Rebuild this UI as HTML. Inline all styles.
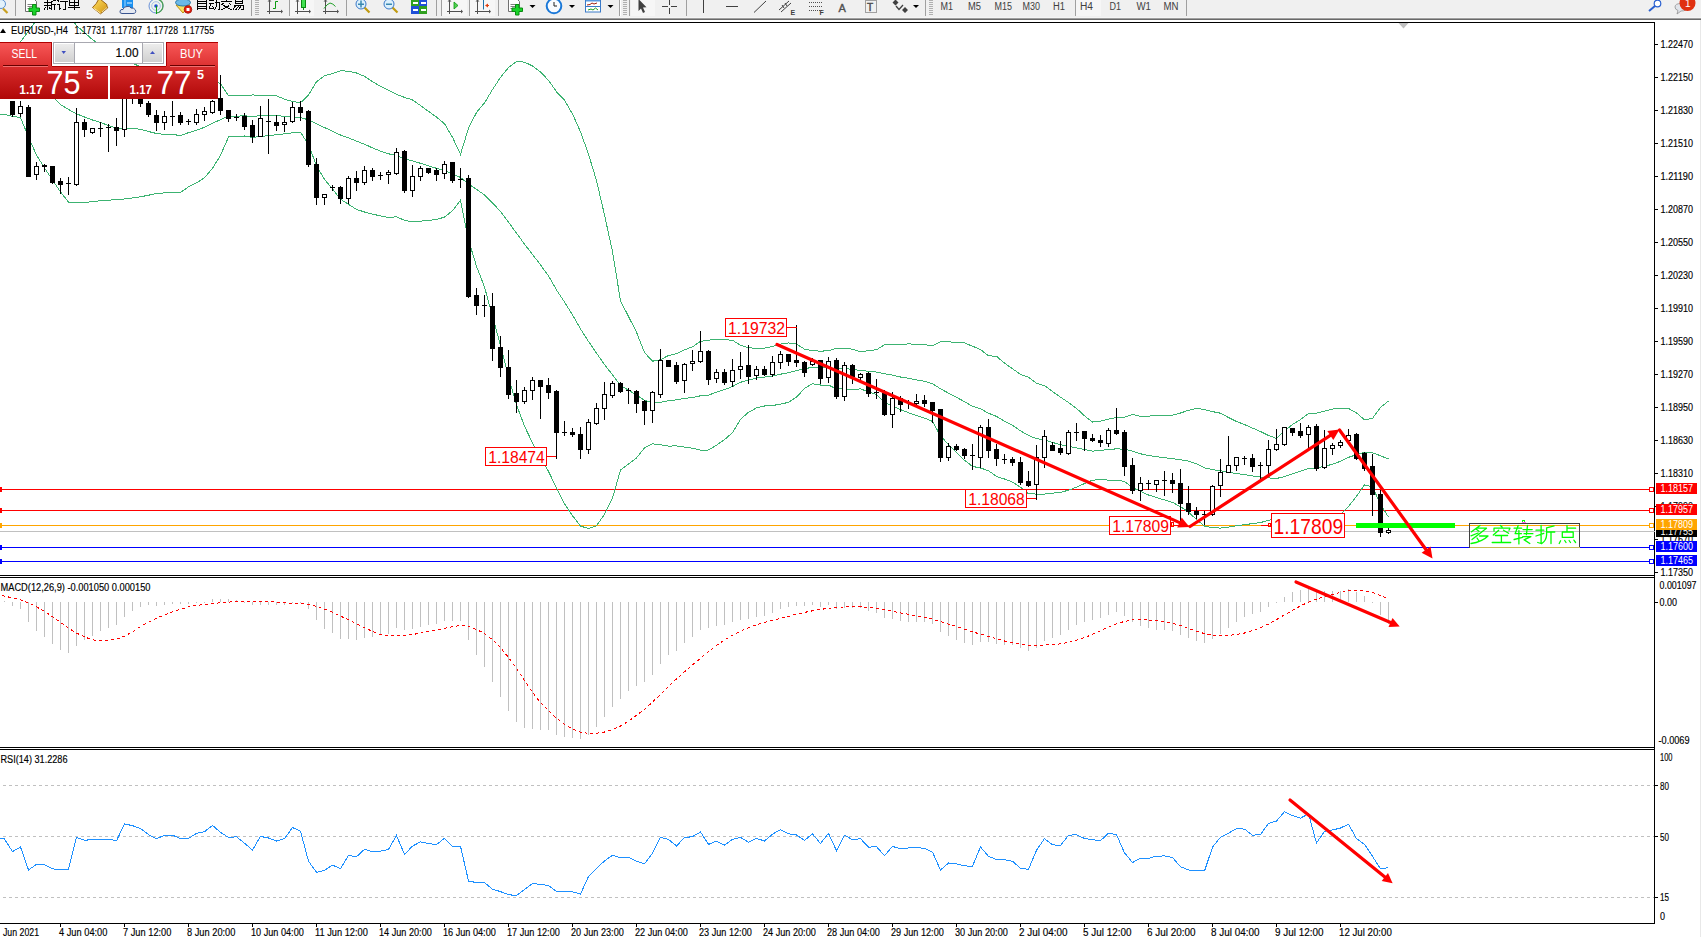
<!DOCTYPE html>
<html><head><meta charset="utf-8"><title>EURUSD H4</title>
<style>
html,body{margin:0;padding:0;background:#fff;width:1701px;height:937px;overflow:hidden}
svg{display:block}
text{font-family:"Liberation Sans",sans-serif}
</style></head><body>
<svg width="1701" height="937" viewBox="0 0 1701 937">
<defs>
<clipPath id="cm"><rect x="0" y="23" width="1654" height="552"/></clipPath>
<clipPath id="cmacd"><rect x="0" y="578" width="1654" height="169"/></clipPath>
<clipPath id="crsi"><rect x="0" y="750" width="1654" height="173"/></clipPath>
<linearGradient id="gred" x1="0" y1="0" x2="0" y2="1"><stop offset="0" stop-color="#d82c2c"/><stop offset="1" stop-color="#b00808"/></linearGradient>
<linearGradient id="gtab" x1="0" y1="0" x2="0" y2="1"><stop offset="0" stop-color="#f85858"/><stop offset="1" stop-color="#dc3030"/></linearGradient>
<linearGradient id="gbtn" x1="0" y1="0" x2="0" y2="1"><stop offset="0" stop-color="#ececec"/><stop offset="1" stop-color="#d0d0d0"/></linearGradient>
</defs>

<g id="toolbar">
<rect x="0" y="0" width="1701" height="18" fill="#f0f0f0"/>
<rect x="0" y="18" width="1701" height="1" fill="#a0a0a0"/><rect x="0" y="19" width="1701" height="1" fill="#d8d8d8"/>
</g>
<rect x="1700" y="19" width="1" height="918" fill="#e8e8e8"/>
<g clip-path="url(#cm)" shape-rendering="crispEdges">
<rect x="0" y="489" width="1650" height="1" fill="#ff0000"/>
<rect x="0" y="487" width="2" height="5" fill="#ff0000"/>
<rect x="1649.5" y="487.5" width="4" height="4" fill="#fff" stroke="#ff0000" stroke-width="1"/>
<rect x="0" y="510" width="1650" height="1" fill="#ff0000"/>
<rect x="0" y="508" width="2" height="5" fill="#ff0000"/>
<rect x="1649.5" y="508.5" width="4" height="4" fill="#fff" stroke="#ff0000" stroke-width="1"/>
<rect x="0" y="525" width="1650" height="1" fill="#ffa500"/>
<rect x="0" y="523" width="2" height="5" fill="#ffa500"/>
<rect x="1649.5" y="523.5" width="4" height="4" fill="#fff" stroke="#ffa500" stroke-width="1"/>
<rect x="0" y="531" width="1655" height="1" fill="#c0c0c0"/>
<rect x="0" y="547" width="1650" height="1" fill="#0000ff"/>
<rect x="0" y="545" width="2" height="5" fill="#0000ff"/>
<rect x="1649.5" y="545.5" width="4" height="4" fill="#fff" stroke="#0000ff" stroke-width="1"/>
<rect x="0" y="561" width="1650" height="1" fill="#0000ff"/>
<rect x="0" y="559" width="2" height="5" fill="#0000ff"/>
<rect x="1649.5" y="559.5" width="4" height="4" fill="#fff" stroke="#0000ff" stroke-width="1"/>
<polyline points="-3.5,66.0 4.5,60.0 12.5,52.0 20.5,42.0 28.5,31.0 36.5,20.0 44.5,12.0 52.5,8.0 60.5,8.0 68.5,14.0 76.5,25.6 84.5,32.6 92.5,39.6 100.5,45.0 108.5,50.0 116.5,54.0 124.5,58.0 132.5,63.0 140.5,67.0 148.5,71.0 156.5,74.0 164.5,76.1 172.5,76.4 180.5,78.3 188.5,78.4 196.5,77.4 204.5,76.8 212.5,78.3 220.5,83.9 228.5,95.7 236.5,95.6 244.5,95.8 252.5,95.0 260.5,95.1 268.5,95.3 276.5,95.7 284.5,99.3 292.5,101.3 300.5,102.8 308.5,95.0 316.5,81.7 324.5,75.7 332.5,73.6 340.5,70.7 348.5,71.2 356.5,73.0 364.5,76.3 372.5,81.7 380.5,86.3 388.5,90.3 396.5,94.3 404.5,97.4 412.5,99.9 420.5,105.5 428.5,111.4 436.5,117.1 444.5,123.7 452.5,137.3 460.5,154.4 468.5,128.2 476.5,112.5 484.5,102.9 492.5,89.5 500.5,77.4 508.5,67.5 516.5,61.5 524.5,62.1 532.5,66.0 540.5,72.0 548.5,80.3 556.5,91.8 564.5,100.2 572.5,114.0 580.5,131.7 588.5,154.2 596.5,180.5 604.5,215.0 612.5,251.5 620.5,300.9 628.5,316.4 636.5,332.3 644.5,352.6 652.5,361.2 660.5,359.7 668.5,355.5 676.5,353.7 684.5,349.8 692.5,346.8 700.5,341.4 708.5,340.3 716.5,339.1 724.5,339.7 732.5,340.2 740.5,345.3 748.5,347.8 756.5,348.3 764.5,348.2 772.5,346.6 780.5,344.1 788.5,343.0 796.5,344.1 804.5,349.1 812.5,350.6 820.5,351.2 828.5,350.7 836.5,348.2 844.5,348.4 852.5,349.2 860.5,352.0 868.5,350.6 876.5,349.7 884.5,344.9 892.5,344.6 900.5,344.4 908.5,343.9 916.5,344.3 924.5,344.5 932.5,345.9 940.5,341.8 948.5,341.7 956.5,342.7 964.5,342.9 972.5,346.2 980.5,349.5 988.5,355.8 996.5,356.3 1004.5,363.1 1012.5,368.7 1020.5,374.4 1028.5,377.1 1036.5,383.3 1044.5,385.6 1052.5,391.6 1060.5,397.2 1068.5,402.5 1076.5,408.4 1084.5,415.8 1092.5,422.1 1100.5,421.2 1108.5,419.1 1116.5,417.4 1124.5,417.2 1132.5,414.5 1140.5,416.4 1148.5,416.1 1156.5,415.7 1164.5,415.5 1172.5,415.1 1180.5,413.0 1188.5,410.3 1196.5,408.3 1204.5,409.6 1212.5,411.6 1220.5,413.2 1228.5,417.5 1236.5,421.5 1244.5,424.5 1252.5,428.1 1260.5,431.5 1268.5,435.5 1276.5,438.4 1284.5,430.9 1292.5,424.5 1300.5,419.5 1308.5,413.5 1316.5,413.1 1324.5,411.1 1332.5,409.1 1340.5,408.2 1348.5,408.4 1356.5,412.9 1364.5,419.9 1372.5,418.4 1380.5,407.5 1388.5,400.9" fill="none" stroke="#3cb371" stroke-width="1"/>
<polyline points="-3.5,85.0 4.5,85.0 12.5,85.0 20.5,86.0 28.5,87.0 36.5,88.0 44.5,90.0 52.5,96.5 60.5,104.5 68.5,109.5 76.5,113.8 84.5,117.0 92.5,120.0 100.5,122.5 108.5,125.5 116.5,128.0 124.5,128.2 132.5,128.5 140.5,129.3 148.5,131.5 156.5,133.5 164.5,134.5 172.5,134.6 180.5,135.4 188.5,132.7 196.5,130.1 204.5,127.3 212.5,123.3 220.5,119.6 228.5,116.3 236.5,116.1 244.5,115.9 252.5,116.3 260.5,115.8 268.5,115.5 276.5,115.2 284.5,116.6 292.5,117.0 300.5,117.5 308.5,119.9 316.5,123.7 324.5,127.6 332.5,131.2 340.5,135.0 348.5,137.8 356.5,141.2 364.5,144.2 372.5,147.9 380.5,151.1 388.5,153.8 396.5,155.6 404.5,158.8 412.5,160.8 420.5,163.3 428.5,165.9 436.5,168.3 444.5,170.4 452.5,174.0 460.5,177.4 468.5,184.0 476.5,189.4 484.5,194.9 492.5,202.9 500.5,211.4 508.5,222.2 516.5,233.1 524.5,244.1 532.5,254.4 540.5,264.9 548.5,275.9 556.5,289.9 564.5,302.0 572.5,314.9 580.5,328.9 588.5,341.4 596.5,353.1 604.5,364.7 612.5,374.8 620.5,385.5 628.5,390.2 636.5,395.1 644.5,400.3 652.5,402.5 660.5,402.2 668.5,400.8 676.5,399.8 684.5,398.5 692.5,397.5 700.5,395.8 708.5,395.1 716.5,392.2 724.5,389.6 732.5,386.5 740.5,382.3 748.5,380.1 756.5,378.1 764.5,377.1 772.5,376.1 780.5,374.2 788.5,372.7 796.5,370.7 804.5,368.8 812.5,367.2 820.5,368.1 828.5,367.8 836.5,368.6 844.5,368.6 852.5,369.4 860.5,370.5 868.5,371.2 876.5,372.1 884.5,373.8 892.5,375.1 900.5,377.0 908.5,378.3 916.5,379.9 924.5,381.3 932.5,383.7 940.5,388.8 948.5,393.1 956.5,397.4 964.5,401.6 972.5,406.3 980.5,408.8 988.5,413.2 996.5,416.4 1004.5,421.1 1012.5,425.4 1020.5,430.8 1028.5,435.4 1036.5,438.7 1044.5,439.8 1052.5,442.4 1060.5,444.8 1068.5,446.3 1076.5,447.8 1084.5,449.6 1092.5,451.1 1100.5,450.4 1108.5,449.6 1116.5,448.8 1124.5,449.3 1132.5,451.1 1140.5,453.8 1148.5,455.5 1156.5,456.6 1164.5,457.7 1172.5,458.7 1180.5,459.8 1188.5,461.1 1196.5,463.9 1204.5,467.8 1212.5,469.7 1220.5,470.7 1228.5,472.3 1236.5,473.6 1244.5,474.6 1252.5,475.9 1260.5,477.0 1268.5,477.9 1276.5,478.5 1284.5,476.6 1292.5,473.7 1300.5,471.3 1308.5,468.5 1316.5,467.9 1324.5,466.2 1332.5,464.3 1340.5,461.2 1348.5,457.4 1356.5,454.6 1364.5,452.3 1372.5,452.7 1380.5,455.8 1388.5,459.0" fill="none" stroke="#3cb371" stroke-width="1"/>
<polyline points="-3.5,114.2 4.5,114.3 12.5,116.4 20.5,117.6 28.5,137.0 36.5,155.0 44.5,168.0 52.5,180.0 60.5,192.0 68.5,202.0 76.5,202.5 84.5,202.7 92.5,201.5 100.5,200.8 108.5,200.2 116.5,199.6 124.5,199.0 132.5,198.0 140.5,196.8 148.5,195.2 156.5,193.6 164.5,192.9 172.5,192.9 180.5,192.5 188.5,186.9 196.5,182.8 204.5,177.8 212.5,168.3 220.5,155.4 228.5,137.0 236.5,136.6 244.5,136.0 252.5,137.5 260.5,136.5 268.5,135.7 276.5,134.7 284.5,133.9 292.5,132.8 300.5,132.1 308.5,144.9 316.5,165.6 324.5,179.4 332.5,188.8 340.5,199.2 348.5,204.4 356.5,209.4 364.5,212.0 372.5,214.1 380.5,215.9 388.5,217.4 396.5,216.8 404.5,220.3 412.5,221.8 420.5,221.1 428.5,220.4 436.5,219.5 444.5,217.1 452.5,210.7 460.5,200.3 468.5,239.8 476.5,266.3 484.5,287.0 492.5,316.4 500.5,345.4 508.5,376.8 516.5,404.8 524.5,426.2 532.5,442.8 540.5,457.8 548.5,471.4 556.5,487.9 564.5,503.7 572.5,515.7 580.5,526.0 588.5,528.6 596.5,525.7 604.5,514.3 612.5,498.2 620.5,470.0 628.5,464.0 636.5,457.9 644.5,447.9 652.5,443.8 660.5,444.7 668.5,446.1 676.5,445.9 684.5,447.1 692.5,448.2 700.5,450.2 708.5,450.0 716.5,445.2 724.5,439.6 732.5,432.7 740.5,419.3 748.5,412.3 756.5,407.9 764.5,406.0 772.5,405.5 780.5,404.2 788.5,402.3 796.5,397.2 804.5,388.4 812.5,383.8 820.5,385.0 828.5,385.0 836.5,388.9 844.5,388.9 852.5,389.5 860.5,388.9 868.5,391.8 876.5,394.6 884.5,402.6 892.5,405.7 900.5,409.6 908.5,412.7 916.5,415.4 924.5,418.1 932.5,421.4 940.5,435.9 948.5,444.5 956.5,452.2 964.5,460.3 972.5,466.4 980.5,468.0 988.5,470.7 996.5,476.5 1004.5,479.0 1012.5,482.1 1020.5,487.3 1028.5,493.7 1036.5,494.1 1044.5,494.1 1052.5,493.2 1060.5,492.4 1068.5,490.2 1076.5,487.2 1084.5,483.5 1092.5,480.2 1100.5,479.6 1108.5,480.1 1116.5,480.2 1124.5,481.4 1132.5,487.6 1140.5,491.3 1148.5,495.0 1156.5,497.6 1164.5,499.9 1172.5,502.4 1180.5,506.7 1188.5,512.0 1196.5,519.6 1204.5,526.0 1212.5,527.7 1220.5,528.1 1228.5,527.1 1236.5,525.7 1244.5,524.7 1252.5,523.6 1260.5,522.6 1268.5,520.3 1276.5,518.6 1284.5,522.3 1292.5,522.9 1300.5,523.1 1308.5,523.4 1316.5,522.6 1324.5,521.3 1332.5,519.5 1340.5,514.2 1348.5,506.4 1356.5,496.3 1364.5,484.8 1372.5,487.0 1380.5,504.1 1388.5,517.1" fill="none" stroke="#3cb371" stroke-width="1"/>
<rect x="12" y="101" width="1" height="16" fill="#000"/>
<rect x="10" y="101" width="5" height="14" fill="#000"/>
<rect x="20" y="101" width="1" height="16" fill="#000"/>
<rect x="18.5" y="106.5" width="4" height="7" fill="#fff" stroke="#000" stroke-width="1"/>
<rect x="28" y="105" width="1" height="72" fill="#000"/>
<rect x="26" y="107" width="5" height="70" fill="#000"/>
<rect x="36" y="162" width="1" height="18" fill="#000"/>
<rect x="34.5" y="166.5" width="4" height="8" fill="#fff" stroke="#000" stroke-width="1"/>
<rect x="44" y="164" width="1" height="8" fill="#000"/>
<rect x="42" y="165" width="5" height="2" fill="#000"/>
<rect x="52" y="166" width="1" height="18" fill="#000"/>
<rect x="50" y="166" width="5" height="17" fill="#000"/>
<rect x="60" y="178" width="1" height="16" fill="#000"/>
<rect x="58" y="181" width="5" height="4" fill="#000"/>
<rect x="68" y="177" width="1" height="18" fill="#000"/>
<rect x="66" y="183" width="5" height="1" fill="#000"/>
<rect x="76" y="108" width="1" height="78" fill="#000"/>
<rect x="74.5" y="122.5" width="4" height="62" fill="#fff" stroke="#000" stroke-width="1"/>
<rect x="84" y="119" width="1" height="18" fill="#000"/>
<rect x="82" y="122" width="5" height="8" fill="#000"/>
<rect x="92" y="128" width="1" height="6" fill="#000"/>
<rect x="90.5" y="128.5" width="4" height="4" fill="#fff" stroke="#000" stroke-width="1"/>
<rect x="100" y="122" width="1" height="15" fill="#000"/>
<rect x="98" y="128" width="5" height="1" fill="#000"/>
<rect x="108" y="124" width="1" height="28" fill="#000"/>
<rect x="106" y="127" width="5" height="1" fill="#000"/>
<rect x="116" y="118" width="1" height="28" fill="#000"/>
<rect x="114" y="127" width="5" height="4" fill="#000"/>
<rect x="124" y="90" width="1" height="47" fill="#000"/>
<rect x="122.5" y="95.5" width="4" height="34" fill="#fff" stroke="#000" stroke-width="1"/>
<rect x="132" y="88" width="1" height="16" fill="#000"/>
<rect x="130" y="92" width="5" height="7" fill="#000"/>
<rect x="140" y="92" width="1" height="15" fill="#000"/>
<rect x="138" y="96" width="5" height="8" fill="#000"/>
<rect x="148" y="101" width="1" height="16" fill="#000"/>
<rect x="146" y="103" width="5" height="12" fill="#000"/>
<rect x="156" y="110" width="1" height="21" fill="#000"/>
<rect x="154" y="115" width="5" height="8" fill="#000"/>
<rect x="164" y="111" width="1" height="19" fill="#000"/>
<rect x="162.5" y="116.5" width="4" height="6" fill="#fff" stroke="#000" stroke-width="1"/>
<rect x="172" y="101" width="1" height="25" fill="#000"/>
<rect x="170" y="116" width="5" height="1" fill="#000"/>
<rect x="180" y="112" width="1" height="13" fill="#000"/>
<rect x="178" y="115" width="5" height="8" fill="#000"/>
<rect x="188" y="119" width="1" height="6" fill="#000"/>
<rect x="186" y="121" width="5" height="1" fill="#000"/>
<rect x="196" y="109" width="1" height="16" fill="#000"/>
<rect x="194.5" y="114.5" width="4" height="8" fill="#fff" stroke="#000" stroke-width="1"/>
<rect x="204" y="107" width="1" height="14" fill="#000"/>
<rect x="202.5" y="111.5" width="4" height="3" fill="#fff" stroke="#000" stroke-width="1"/>
<rect x="212" y="100" width="1" height="14" fill="#000"/>
<rect x="210.5" y="101.5" width="4" height="11" fill="#fff" stroke="#000" stroke-width="1"/>
<rect x="220" y="75" width="1" height="40" fill="#000"/>
<rect x="218" y="98" width="5" height="13" fill="#000"/>
<rect x="228" y="110" width="1" height="12" fill="#000"/>
<rect x="226" y="110" width="5" height="9" fill="#000"/>
<rect x="236" y="114" width="1" height="7" fill="#000"/>
<rect x="234" y="117" width="5" height="1" fill="#000"/>
<rect x="244" y="113" width="1" height="17" fill="#000"/>
<rect x="242" y="116" width="5" height="11" fill="#000"/>
<rect x="252" y="120" width="1" height="23" fill="#000"/>
<rect x="250" y="125" width="5" height="12" fill="#000"/>
<rect x="260" y="106" width="1" height="31" fill="#000"/>
<rect x="258.5" y="118.5" width="4" height="18" fill="#fff" stroke="#000" stroke-width="1"/>
<rect x="268" y="99" width="1" height="55" fill="#000"/>
<rect x="266" y="121" width="5" height="1" fill="#000"/>
<rect x="276" y="115" width="1" height="16" fill="#000"/>
<rect x="274" y="122" width="5" height="4" fill="#000"/>
<rect x="284" y="117" width="1" height="15" fill="#000"/>
<rect x="282.5" y="122.5" width="4" height="2" fill="#fff" stroke="#000" stroke-width="1"/>
<rect x="292" y="102" width="1" height="21" fill="#000"/>
<rect x="290.5" y="107.5" width="4" height="14" fill="#fff" stroke="#000" stroke-width="1"/>
<rect x="300" y="101" width="1" height="20" fill="#000"/>
<rect x="298" y="107" width="5" height="6" fill="#000"/>
<rect x="308" y="110" width="1" height="57" fill="#000"/>
<rect x="306" y="111" width="5" height="54" fill="#000"/>
<rect x="316" y="158" width="1" height="47" fill="#000"/>
<rect x="314" y="164" width="5" height="34" fill="#000"/>
<rect x="324" y="194" width="1" height="11" fill="#000"/>
<rect x="322.5" y="194.5" width="4" height="3" fill="#fff" stroke="#000" stroke-width="1"/>
<rect x="332" y="185" width="1" height="6" fill="#000"/>
<rect x="330" y="187" width="5" height="1" fill="#000"/>
<rect x="340" y="186" width="1" height="18" fill="#000"/>
<rect x="338" y="187" width="5" height="12" fill="#000"/>
<rect x="348" y="176" width="1" height="28" fill="#000"/>
<rect x="346.5" y="178.5" width="4" height="20" fill="#fff" stroke="#000" stroke-width="1"/>
<rect x="356" y="171" width="1" height="20" fill="#000"/>
<rect x="354" y="178" width="5" height="5" fill="#000"/>
<rect x="364" y="166" width="1" height="19" fill="#000"/>
<rect x="362.5" y="170.5" width="4" height="12" fill="#fff" stroke="#000" stroke-width="1"/>
<rect x="372" y="168" width="1" height="13" fill="#000"/>
<rect x="370" y="170" width="5" height="7" fill="#000"/>
<rect x="380" y="172" width="1" height="8" fill="#000"/>
<rect x="378" y="175" width="5" height="1" fill="#000"/>
<rect x="388" y="170" width="1" height="14" fill="#000"/>
<rect x="386.5" y="172.5" width="4" height="2" fill="#fff" stroke="#000" stroke-width="1"/>
<rect x="396" y="148" width="1" height="27" fill="#000"/>
<rect x="394.5" y="152.5" width="4" height="21" fill="#fff" stroke="#000" stroke-width="1"/>
<rect x="404" y="150" width="1" height="43" fill="#000"/>
<rect x="402" y="151" width="5" height="40" fill="#000"/>
<rect x="412" y="165" width="1" height="32" fill="#000"/>
<rect x="410.5" y="176.5" width="4" height="14" fill="#fff" stroke="#000" stroke-width="1"/>
<rect x="420" y="166" width="1" height="15" fill="#000"/>
<rect x="418.5" y="168.5" width="4" height="8" fill="#fff" stroke="#000" stroke-width="1"/>
<rect x="428" y="168" width="1" height="6" fill="#000"/>
<rect x="426" y="168" width="5" height="5" fill="#000"/>
<rect x="436" y="168" width="1" height="13" fill="#000"/>
<rect x="434" y="170" width="5" height="5" fill="#000"/>
<rect x="444" y="161" width="1" height="18" fill="#000"/>
<rect x="442.5" y="164.5" width="4" height="9" fill="#fff" stroke="#000" stroke-width="1"/>
<rect x="452" y="162" width="1" height="21" fill="#000"/>
<rect x="450" y="162" width="5" height="19" fill="#000"/>
<rect x="460" y="168" width="1" height="20" fill="#000"/>
<rect x="458" y="179" width="5" height="1" fill="#000"/>
<rect x="468" y="175" width="1" height="123" fill="#000"/>
<rect x="466" y="178" width="5" height="119" fill="#000"/>
<rect x="476" y="288" width="1" height="27" fill="#000"/>
<rect x="474" y="295" width="5" height="11" fill="#000"/>
<rect x="484" y="295" width="1" height="22" fill="#000"/>
<rect x="482" y="305" width="5" height="1" fill="#000"/>
<rect x="492" y="293" width="1" height="68" fill="#000"/>
<rect x="490" y="306" width="5" height="43" fill="#000"/>
<rect x="500" y="336" width="1" height="41" fill="#000"/>
<rect x="498" y="347" width="5" height="21" fill="#000"/>
<rect x="508" y="350" width="1" height="49" fill="#000"/>
<rect x="506" y="367" width="5" height="28" fill="#000"/>
<rect x="516" y="380" width="1" height="33" fill="#000"/>
<rect x="514" y="393" width="5" height="9" fill="#000"/>
<rect x="524" y="387" width="1" height="17" fill="#000"/>
<rect x="522.5" y="390.5" width="4" height="11" fill="#fff" stroke="#000" stroke-width="1"/>
<rect x="532" y="377" width="1" height="23" fill="#000"/>
<rect x="530.5" y="380.5" width="4" height="10" fill="#fff" stroke="#000" stroke-width="1"/>
<rect x="540" y="380" width="1" height="39" fill="#000"/>
<rect x="538" y="380" width="5" height="7" fill="#000"/>
<rect x="548" y="378" width="1" height="21" fill="#000"/>
<rect x="546" y="385" width="5" height="8" fill="#000"/>
<rect x="556" y="390" width="1" height="69" fill="#000"/>
<rect x="554" y="391" width="5" height="42" fill="#000"/>
<rect x="564" y="421" width="1" height="15" fill="#000"/>
<rect x="562" y="432" width="5" height="1" fill="#000"/>
<rect x="572" y="428" width="1" height="9" fill="#000"/>
<rect x="570" y="432" width="5" height="3" fill="#000"/>
<rect x="580" y="427" width="1" height="32" fill="#000"/>
<rect x="578" y="434" width="5" height="16" fill="#000"/>
<rect x="588" y="419" width="1" height="35" fill="#000"/>
<rect x="586.5" y="422.5" width="4" height="27" fill="#fff" stroke="#000" stroke-width="1"/>
<rect x="596" y="403" width="1" height="22" fill="#000"/>
<rect x="594.5" y="408.5" width="4" height="15" fill="#fff" stroke="#000" stroke-width="1"/>
<rect x="604" y="382" width="1" height="38" fill="#000"/>
<rect x="602.5" y="394.5" width="4" height="14" fill="#fff" stroke="#000" stroke-width="1"/>
<rect x="612" y="381" width="1" height="17" fill="#000"/>
<rect x="610.5" y="383.5" width="4" height="12" fill="#fff" stroke="#000" stroke-width="1"/>
<rect x="620" y="382" width="1" height="11" fill="#000"/>
<rect x="618" y="383" width="5" height="9" fill="#000"/>
<rect x="628" y="388" width="1" height="16" fill="#000"/>
<rect x="626" y="390" width="5" height="1" fill="#000"/>
<rect x="636" y="390" width="1" height="23" fill="#000"/>
<rect x="634" y="391" width="5" height="13" fill="#000"/>
<rect x="644" y="400" width="1" height="25" fill="#000"/>
<rect x="642" y="401" width="5" height="10" fill="#000"/>
<rect x="652" y="391" width="1" height="32" fill="#000"/>
<rect x="650.5" y="392.5" width="4" height="18" fill="#fff" stroke="#000" stroke-width="1"/>
<rect x="660" y="349" width="1" height="49" fill="#000"/>
<rect x="658.5" y="360.5" width="4" height="34" fill="#fff" stroke="#000" stroke-width="1"/>
<rect x="668" y="360" width="1" height="7" fill="#000"/>
<rect x="666" y="360" width="5" height="7" fill="#000"/>
<rect x="676" y="362" width="1" height="22" fill="#000"/>
<rect x="674" y="365" width="5" height="17" fill="#000"/>
<rect x="684" y="363" width="1" height="30" fill="#000"/>
<rect x="682.5" y="364.5" width="4" height="16" fill="#fff" stroke="#000" stroke-width="1"/>
<rect x="692" y="350" width="1" height="21" fill="#000"/>
<rect x="690.5" y="361.5" width="4" height="2" fill="#fff" stroke="#000" stroke-width="1"/>
<rect x="700" y="331" width="1" height="32" fill="#000"/>
<rect x="698.5" y="351.5" width="4" height="10" fill="#fff" stroke="#000" stroke-width="1"/>
<rect x="708" y="350" width="1" height="35" fill="#000"/>
<rect x="706" y="351" width="5" height="29" fill="#000"/>
<rect x="716" y="369" width="1" height="14" fill="#000"/>
<rect x="714.5" y="372.5" width="4" height="6" fill="#fff" stroke="#000" stroke-width="1"/>
<rect x="724" y="369" width="1" height="16" fill="#000"/>
<rect x="722" y="372" width="5" height="11" fill="#000"/>
<rect x="732" y="359" width="1" height="28" fill="#000"/>
<rect x="730.5" y="370.5" width="4" height="11" fill="#fff" stroke="#000" stroke-width="1"/>
<rect x="740" y="352" width="1" height="27" fill="#000"/>
<rect x="738.5" y="366.5" width="4" height="3" fill="#fff" stroke="#000" stroke-width="1"/>
<rect x="748" y="345" width="1" height="39" fill="#000"/>
<rect x="746" y="365" width="5" height="12" fill="#000"/>
<rect x="756" y="366" width="1" height="14" fill="#000"/>
<rect x="754.5" y="369.5" width="4" height="6" fill="#fff" stroke="#000" stroke-width="1"/>
<rect x="764" y="366" width="1" height="10" fill="#000"/>
<rect x="762" y="369" width="5" height="6" fill="#000"/>
<rect x="772" y="356" width="1" height="21" fill="#000"/>
<rect x="770.5" y="362.5" width="4" height="12" fill="#fff" stroke="#000" stroke-width="1"/>
<rect x="780" y="351" width="1" height="18" fill="#000"/>
<rect x="778.5" y="354.5" width="4" height="8" fill="#fff" stroke="#000" stroke-width="1"/>
<rect x="788" y="354" width="1" height="12" fill="#000"/>
<rect x="786" y="354" width="5" height="8" fill="#000"/>
<rect x="796" y="325" width="1" height="42" fill="#000"/>
<rect x="794" y="360" width="5" height="3" fill="#000"/>
<rect x="804" y="361" width="1" height="16" fill="#000"/>
<rect x="802" y="362" width="5" height="11" fill="#000"/>
<rect x="812" y="358" width="1" height="8" fill="#000"/>
<rect x="810.5" y="361.5" width="4" height="3" fill="#fff" stroke="#000" stroke-width="1"/>
<rect x="820" y="360" width="1" height="24" fill="#000"/>
<rect x="818" y="360" width="5" height="19" fill="#000"/>
<rect x="828" y="357" width="1" height="26" fill="#000"/>
<rect x="826.5" y="361.5" width="4" height="16" fill="#fff" stroke="#000" stroke-width="1"/>
<rect x="836" y="358" width="1" height="41" fill="#000"/>
<rect x="834" y="360" width="5" height="37" fill="#000"/>
<rect x="844" y="362" width="1" height="39" fill="#000"/>
<rect x="842.5" y="365.5" width="4" height="31" fill="#fff" stroke="#000" stroke-width="1"/>
<rect x="852" y="364" width="1" height="20" fill="#000"/>
<rect x="850" y="365" width="5" height="12" fill="#000"/>
<rect x="860" y="373" width="1" height="8" fill="#000"/>
<rect x="858.5" y="374.5" width="4" height="3" fill="#fff" stroke="#000" stroke-width="1"/>
<rect x="868" y="372" width="1" height="25" fill="#000"/>
<rect x="866" y="373" width="5" height="21" fill="#000"/>
<rect x="876" y="379" width="1" height="20" fill="#000"/>
<rect x="874" y="392" width="5" height="1" fill="#000"/>
<rect x="884" y="390" width="1" height="26" fill="#000"/>
<rect x="882" y="393" width="5" height="22" fill="#000"/>
<rect x="892" y="392" width="1" height="36" fill="#000"/>
<rect x="890.5" y="398.5" width="4" height="16" fill="#fff" stroke="#000" stroke-width="1"/>
<rect x="900" y="396" width="1" height="16" fill="#000"/>
<rect x="898" y="398" width="5" height="7" fill="#000"/>
<rect x="908" y="400" width="1" height="9" fill="#000"/>
<rect x="906" y="402" width="5" height="1" fill="#000"/>
<rect x="916" y="394" width="1" height="11" fill="#000"/>
<rect x="914.5" y="401.5" width="4" height="2" fill="#fff" stroke="#000" stroke-width="1"/>
<rect x="924" y="395" width="1" height="12" fill="#000"/>
<rect x="922" y="400" width="5" height="4" fill="#000"/>
<rect x="932" y="402" width="1" height="21" fill="#000"/>
<rect x="930" y="402" width="5" height="9" fill="#000"/>
<rect x="940" y="409" width="1" height="53" fill="#000"/>
<rect x="938" y="409" width="5" height="49" fill="#000"/>
<rect x="948" y="443" width="1" height="18" fill="#000"/>
<rect x="946.5" y="446.5" width="4" height="11" fill="#fff" stroke="#000" stroke-width="1"/>
<rect x="956" y="444" width="1" height="7" fill="#000"/>
<rect x="954" y="446" width="5" height="4" fill="#000"/>
<rect x="964" y="448" width="1" height="11" fill="#000"/>
<rect x="962" y="449" width="5" height="7" fill="#000"/>
<rect x="972" y="444" width="1" height="26" fill="#000"/>
<rect x="970" y="455" width="5" height="1" fill="#000"/>
<rect x="980" y="425" width="1" height="43" fill="#000"/>
<rect x="978.5" y="427.5" width="4" height="30" fill="#fff" stroke="#000" stroke-width="1"/>
<rect x="988" y="419" width="1" height="39" fill="#000"/>
<rect x="986" y="427" width="5" height="24" fill="#000"/>
<rect x="996" y="444" width="1" height="22" fill="#000"/>
<rect x="994" y="449" width="5" height="10" fill="#000"/>
<rect x="1004" y="454" width="1" height="10" fill="#000"/>
<rect x="1002" y="459" width="5" height="1" fill="#000"/>
<rect x="1012" y="457" width="1" height="9" fill="#000"/>
<rect x="1010" y="459" width="5" height="4" fill="#000"/>
<rect x="1020" y="457" width="1" height="28" fill="#000"/>
<rect x="1018" y="462" width="5" height="21" fill="#000"/>
<rect x="1028" y="471" width="1" height="16" fill="#000"/>
<rect x="1026" y="481" width="5" height="5" fill="#000"/>
<rect x="1036" y="445" width="1" height="55" fill="#000"/>
<rect x="1034.5" y="457.5" width="4" height="27" fill="#fff" stroke="#000" stroke-width="1"/>
<rect x="1044" y="430" width="1" height="38" fill="#000"/>
<rect x="1042.5" y="436.5" width="4" height="21" fill="#fff" stroke="#000" stroke-width="1"/>
<rect x="1052" y="442" width="1" height="9" fill="#000"/>
<rect x="1050" y="445" width="5" height="6" fill="#000"/>
<rect x="1060" y="441" width="1" height="14" fill="#000"/>
<rect x="1058" y="448" width="5" height="5" fill="#000"/>
<rect x="1068" y="430" width="1" height="25" fill="#000"/>
<rect x="1066.5" y="432.5" width="4" height="21" fill="#fff" stroke="#000" stroke-width="1"/>
<rect x="1076" y="423" width="1" height="18" fill="#000"/>
<rect x="1074" y="432" width="5" height="1" fill="#000"/>
<rect x="1084" y="431" width="1" height="20" fill="#000"/>
<rect x="1082" y="431" width="5" height="8" fill="#000"/>
<rect x="1092" y="434" width="1" height="8" fill="#000"/>
<rect x="1090" y="438" width="5" height="3" fill="#000"/>
<rect x="1100" y="435" width="1" height="12" fill="#000"/>
<rect x="1098" y="440" width="5" height="3" fill="#000"/>
<rect x="1108" y="428" width="1" height="19" fill="#000"/>
<rect x="1106.5" y="430.5" width="4" height="13" fill="#fff" stroke="#000" stroke-width="1"/>
<rect x="1116" y="408" width="1" height="27" fill="#000"/>
<rect x="1114" y="430" width="5" height="4" fill="#000"/>
<rect x="1124" y="430" width="1" height="46" fill="#000"/>
<rect x="1122" y="432" width="5" height="35" fill="#000"/>
<rect x="1132" y="458" width="1" height="36" fill="#000"/>
<rect x="1130" y="465" width="5" height="26" fill="#000"/>
<rect x="1140" y="477" width="1" height="24" fill="#000"/>
<rect x="1138.5" y="483.5" width="4" height="7" fill="#fff" stroke="#000" stroke-width="1"/>
<rect x="1148" y="480" width="1" height="10" fill="#000"/>
<rect x="1146" y="483" width="5" height="1" fill="#000"/>
<rect x="1156" y="480" width="1" height="12" fill="#000"/>
<rect x="1154.5" y="480.5" width="4" height="4" fill="#fff" stroke="#000" stroke-width="1"/>
<rect x="1164" y="471" width="1" height="25" fill="#000"/>
<rect x="1162" y="480" width="5" height="1" fill="#000"/>
<rect x="1172" y="473" width="1" height="20" fill="#000"/>
<rect x="1170" y="480" width="5" height="4" fill="#000"/>
<rect x="1180" y="469" width="1" height="54" fill="#000"/>
<rect x="1178" y="483" width="5" height="21" fill="#000"/>
<rect x="1188" y="486" width="1" height="29" fill="#000"/>
<rect x="1186" y="503" width="5" height="9" fill="#000"/>
<rect x="1196" y="507" width="1" height="12" fill="#000"/>
<rect x="1194" y="511" width="5" height="4" fill="#000"/>
<rect x="1204" y="511" width="1" height="14" fill="#000"/>
<rect x="1202" y="514" width="5" height="1" fill="#000"/>
<rect x="1212" y="485" width="1" height="31" fill="#000"/>
<rect x="1210.5" y="486.5" width="4" height="28" fill="#fff" stroke="#000" stroke-width="1"/>
<rect x="1220" y="459" width="1" height="38" fill="#000"/>
<rect x="1218.5" y="472.5" width="4" height="13" fill="#fff" stroke="#000" stroke-width="1"/>
<rect x="1228" y="436" width="1" height="37" fill="#000"/>
<rect x="1226.5" y="465.5" width="4" height="7" fill="#fff" stroke="#000" stroke-width="1"/>
<rect x="1236" y="457" width="1" height="14" fill="#000"/>
<rect x="1234.5" y="457.5" width="4" height="8" fill="#fff" stroke="#000" stroke-width="1"/>
<rect x="1244" y="456" width="1" height="9" fill="#000"/>
<rect x="1242" y="458" width="5" height="1" fill="#000"/>
<rect x="1252" y="454" width="1" height="18" fill="#000"/>
<rect x="1250" y="458" width="5" height="9" fill="#000"/>
<rect x="1260" y="462" width="1" height="18" fill="#000"/>
<rect x="1258" y="465" width="5" height="1" fill="#000"/>
<rect x="1268" y="440" width="1" height="35" fill="#000"/>
<rect x="1266.5" y="449.5" width="4" height="16" fill="#fff" stroke="#000" stroke-width="1"/>
<rect x="1276" y="429" width="1" height="22" fill="#000"/>
<rect x="1274.5" y="444.5" width="4" height="5" fill="#fff" stroke="#000" stroke-width="1"/>
<rect x="1284" y="427" width="1" height="19" fill="#000"/>
<rect x="1282.5" y="427.5" width="4" height="17" fill="#fff" stroke="#000" stroke-width="1"/>
<rect x="1292" y="428" width="1" height="8" fill="#000"/>
<rect x="1290" y="428" width="5" height="5" fill="#000"/>
<rect x="1300" y="423" width="1" height="15" fill="#000"/>
<rect x="1298" y="431" width="5" height="5" fill="#000"/>
<rect x="1308" y="425" width="1" height="25" fill="#000"/>
<rect x="1306.5" y="427.5" width="4" height="7" fill="#fff" stroke="#000" stroke-width="1"/>
<rect x="1316" y="424" width="1" height="47" fill="#000"/>
<rect x="1314" y="426" width="5" height="43" fill="#000"/>
<rect x="1324" y="430" width="1" height="39" fill="#000"/>
<rect x="1322.5" y="448.5" width="4" height="19" fill="#fff" stroke="#000" stroke-width="1"/>
<rect x="1332" y="443" width="1" height="12" fill="#000"/>
<rect x="1330.5" y="445.5" width="4" height="3" fill="#fff" stroke="#000" stroke-width="1"/>
<rect x="1340" y="440" width="1" height="8" fill="#000"/>
<rect x="1338.5" y="442.5" width="4" height="3" fill="#fff" stroke="#000" stroke-width="1"/>
<rect x="1348" y="429" width="1" height="12" fill="#000"/>
<rect x="1346.5" y="435.5" width="4" height="5" fill="#fff" stroke="#000" stroke-width="1"/>
<rect x="1356" y="433" width="1" height="27" fill="#000"/>
<rect x="1354" y="434" width="5" height="25" fill="#000"/>
<rect x="1364" y="452" width="1" height="19" fill="#000"/>
<rect x="1362" y="453" width="5" height="16" fill="#000"/>
<rect x="1372" y="454" width="1" height="62" fill="#000"/>
<rect x="1370" y="466" width="5" height="29" fill="#000"/>
<rect x="1380" y="490" width="1" height="47" fill="#000"/>
<rect x="1378" y="494" width="5" height="39" fill="#000"/>
<rect x="1388" y="527" width="1" height="7" fill="#000"/>
<rect x="1386.5" y="530.5" width="4" height="2" fill="#fff" stroke="#000" stroke-width="1"/>
</g>
<g clip-path="url(#cm)">
<rect x="725.5" y="318.5" width="61" height="18" fill="#fff" stroke="#ff0000" stroke-width="1" shape-rendering="crispEdges"/>
<text x="728" y="334" font-size="16" fill="#ff0000" textLength="57" lengthAdjust="spacingAndGlyphs">1.19732</text>
<rect x="787" y="327" width="10" height="1" fill="#ff0000" shape-rendering="crispEdges"/>
<rect x="485.5" y="447.5" width="61" height="18" fill="#fff" stroke="#ff0000" stroke-width="1" shape-rendering="crispEdges"/>
<text x="488.2" y="463" font-size="16" fill="#ff0000" textLength="56.6" lengthAdjust="spacingAndGlyphs">1.18474</text>
<rect x="547" y="456" width="9" height="1" fill="#ff0000" shape-rendering="crispEdges"/>
<rect x="965.5" y="489.5" width="61" height="18" fill="#fff" stroke="#ff0000" stroke-width="1" shape-rendering="crispEdges"/>
<text x="968.2" y="505" font-size="16" fill="#ff0000" textLength="56.6" lengthAdjust="spacingAndGlyphs">1.18068</text>
<rect x="1027" y="498" width="9" height="1" fill="#ff0000" shape-rendering="crispEdges"/>
<rect x="1109.5" y="516.5" width="61" height="18" fill="#fff" stroke="#ff0000" stroke-width="1" shape-rendering="crispEdges"/>
<text x="1112.2" y="532" font-size="16" fill="#ff0000" textLength="56.8" lengthAdjust="spacingAndGlyphs">1.17809</text>
<rect x="1171.5" y="522.5" width="2" height="4" fill="none" stroke="#ff0000" stroke-width="1" shape-rendering="crispEdges"/>
<rect x="1174" y="525" width="5" height="1" fill="#ff0000" shape-rendering="crispEdges"/>
<rect x="1271.5" y="513.5" width="73" height="24" fill="#fff" stroke="#ff0000" stroke-width="1" shape-rendering="crispEdges"/>
<text x="1273.5" y="534" font-size="22" fill="#ff0000" textLength="69.7" lengthAdjust="spacingAndGlyphs">1.17809</text>
<rect x="1268.5" y="523.5" width="2" height="3" fill="none" stroke="#ff0000" stroke-width="1" shape-rendering="crispEdges"/>
<rect x="1261" y="525" width="7" height="1" fill="#ff0000" shape-rendering="crispEdges"/>
<rect x="1356" y="523" width="99" height="5" fill="#00ff00" shape-rendering="crispEdges"/>
<rect x="1469.5" y="523.5" width="110" height="24" fill="none" stroke="#404040" stroke-width="1" shape-rendering="crispEdges"/>
<rect x="1470" y="547" width="110" height="1" fill="#c8b850" shape-rendering="crispEdges"/>
<rect x="1522.5" y="520.5" width="2" height="2" fill="none" stroke="#00ff00" stroke-width="1" shape-rendering="crispEdges"/><rect x="1522" y="522" width="4" height="1" fill="#ff60ff" shape-rendering="crispEdges"/>
<g id="cjkbig"></g>
<line x1="777" y1="344.5" x2="1181.3" y2="523.4" stroke="#ff0000" stroke-width="3.2" stroke-linecap="round"/>
<polygon points="1189.5,527 1177.2,527.6 1181.7,517.5" fill="#ff0000"/>
<line x1="1190" y1="526.5" x2="1331.9" y2="434.4" stroke="#ff0000" stroke-width="3.2" stroke-linecap="round"/>
<polygon points="1339.5,429.5 1333.3,440.1 1327.3,430.9" fill="#ff0000"/>
<line x1="1339.5" y1="430" x2="1427.2" y2="551.2" stroke="#ff0000" stroke-width="3.2" stroke-linecap="round"/>
<polygon points="1432.5,558.5 1421.6,552.8 1430.5,546.4" fill="#ff0000"/>
</g>
<g shape-rendering="crispEdges" fill="#000">
<rect x="0" y="22" width="1655" height="1"/>
<rect x="1654" y="22" width="1" height="902"/>
<rect x="0" y="575" width="1655" height="1"/>
<rect x="0" y="577" width="1655" height="1"/>
<rect x="0" y="747" width="1655" height="1"/>
<rect x="0" y="749" width="1655" height="1"/>
<rect x="0" y="923" width="1655" height="1"/>
<rect x="1654" y="531" width="1" height="1" fill="#c0c0c0"/>
</g>
<polygon points="1398.5,23 1408.5,23 1403.5,28.5" fill="#c0c0c0"/>
<g shape-rendering="crispEdges">
<rect x="1655" y="44" width="3" height="1" fill="#000"/>
<text x="1660.5" y="48" font-size="10" fill="#000" stroke="#000" stroke-width="0.15" textLength="32.5" lengthAdjust="spacingAndGlyphs">1.22470</text>
<rect x="1655" y="77" width="3" height="1" fill="#000"/>
<text x="1660.5" y="81" font-size="10" fill="#000" stroke="#000" stroke-width="0.15" textLength="32.5" lengthAdjust="spacingAndGlyphs">1.22150</text>
<rect x="1655" y="110" width="3" height="1" fill="#000"/>
<text x="1660.5" y="114" font-size="10" fill="#000" stroke="#000" stroke-width="0.15" textLength="32.5" lengthAdjust="spacingAndGlyphs">1.21830</text>
<rect x="1655" y="143" width="3" height="1" fill="#000"/>
<text x="1660.5" y="147" font-size="10" fill="#000" stroke="#000" stroke-width="0.15" textLength="32.5" lengthAdjust="spacingAndGlyphs">1.21510</text>
<rect x="1655" y="176" width="3" height="1" fill="#000"/>
<text x="1660.5" y="180" font-size="10" fill="#000" stroke="#000" stroke-width="0.15" textLength="32.5" lengthAdjust="spacingAndGlyphs">1.21190</text>
<rect x="1655" y="209" width="3" height="1" fill="#000"/>
<text x="1660.5" y="213" font-size="10" fill="#000" stroke="#000" stroke-width="0.15" textLength="32.5" lengthAdjust="spacingAndGlyphs">1.20870</text>
<rect x="1655" y="242" width="3" height="1" fill="#000"/>
<text x="1660.5" y="246" font-size="10" fill="#000" stroke="#000" stroke-width="0.15" textLength="32.5" lengthAdjust="spacingAndGlyphs">1.20550</text>
<rect x="1655" y="275" width="3" height="1" fill="#000"/>
<text x="1660.5" y="279" font-size="10" fill="#000" stroke="#000" stroke-width="0.15" textLength="32.5" lengthAdjust="spacingAndGlyphs">1.20230</text>
<rect x="1655" y="308" width="3" height="1" fill="#000"/>
<text x="1660.5" y="312" font-size="10" fill="#000" stroke="#000" stroke-width="0.15" textLength="32.5" lengthAdjust="spacingAndGlyphs">1.19910</text>
<rect x="1655" y="341" width="3" height="1" fill="#000"/>
<text x="1660.5" y="345" font-size="10" fill="#000" stroke="#000" stroke-width="0.15" textLength="32.5" lengthAdjust="spacingAndGlyphs">1.19590</text>
<rect x="1655" y="374" width="3" height="1" fill="#000"/>
<text x="1660.5" y="378" font-size="10" fill="#000" stroke="#000" stroke-width="0.15" textLength="32.5" lengthAdjust="spacingAndGlyphs">1.19270</text>
<rect x="1655" y="407" width="3" height="1" fill="#000"/>
<text x="1660.5" y="411" font-size="10" fill="#000" stroke="#000" stroke-width="0.15" textLength="32.5" lengthAdjust="spacingAndGlyphs">1.18950</text>
<rect x="1655" y="440" width="3" height="1" fill="#000"/>
<text x="1660.5" y="444" font-size="10" fill="#000" stroke="#000" stroke-width="0.15" textLength="32.5" lengthAdjust="spacingAndGlyphs">1.18630</text>
<rect x="1655" y="473" width="3" height="1" fill="#000"/>
<text x="1660.5" y="477" font-size="10" fill="#000" stroke="#000" stroke-width="0.15" textLength="32.5" lengthAdjust="spacingAndGlyphs">1.18310</text>
<rect x="1655" y="506" width="3" height="1" fill="#000"/>
<text x="1660.5" y="510" font-size="10" fill="#000" stroke="#000" stroke-width="0.15" textLength="32.5" lengthAdjust="spacingAndGlyphs">1.17990</text>
<rect x="1655" y="539" width="3" height="1" fill="#000"/>
<text x="1660.5" y="543" font-size="10" fill="#000" stroke="#000" stroke-width="0.15" textLength="32.5" lengthAdjust="spacingAndGlyphs">1.17670</text>
<rect x="1655" y="572" width="3" height="1" fill="#000"/>
<text x="1660.5" y="576" font-size="10" fill="#000" stroke="#000" stroke-width="0.15" textLength="32.5" lengthAdjust="spacingAndGlyphs">1.17350</text>
<rect x="1656" y="483" width="41" height="11" fill="#ff0000"/>
<text x="1660.5" y="492" font-size="10" fill="#fff" textLength="32.5" lengthAdjust="spacingAndGlyphs">1.18157</text>
<rect x="1656" y="504" width="41" height="11" fill="#ff0000"/>
<text x="1660.5" y="513" font-size="10" fill="#fff" textLength="32.5" lengthAdjust="spacingAndGlyphs">1.17957</text>
<rect x="1656" y="526" width="41" height="11" fill="#000000"/>
<text x="1660.5" y="535" font-size="10" fill="#fff" textLength="32.5" lengthAdjust="spacingAndGlyphs">1.17755</text>
<rect x="1656" y="519" width="41" height="11" fill="#ffa500"/>
<text x="1660.5" y="528" font-size="10" fill="#fff" textLength="32.5" lengthAdjust="spacingAndGlyphs">1.17809</text>
<rect x="1656" y="541" width="41" height="11" fill="#0000ff"/>
<text x="1660.5" y="550" font-size="10" fill="#fff" textLength="32.5" lengthAdjust="spacingAndGlyphs">1.17600</text>
<rect x="1656" y="555" width="41" height="11" fill="#0000ff"/>
<text x="1660.5" y="564" font-size="10" fill="#fff" textLength="32.5" lengthAdjust="spacingAndGlyphs">1.17465</text>
</g>
<polygon points="0,33 6,33 3,28.5" fill="#000"/>
<text x="11" y="34" font-size="10" fill="#000" stroke="#000" stroke-width="0.15" textLength="57" lengthAdjust="spacingAndGlyphs">EURUSD-,H4</text>
<text x="74.5" y="34" font-size="10" fill="#000" stroke="#000" stroke-width="0.15" textLength="31.5" lengthAdjust="spacingAndGlyphs">1.17731</text>
<text x="110.5" y="34" font-size="10" fill="#000" stroke="#000" stroke-width="0.15" textLength="31.5" lengthAdjust="spacingAndGlyphs">1.17787</text>
<text x="146.5" y="34" font-size="10" fill="#000" stroke="#000" stroke-width="0.15" textLength="31.5" lengthAdjust="spacingAndGlyphs">1.17728</text>
<text x="182.5" y="34" font-size="10" fill="#000" stroke="#000" stroke-width="0.15" textLength="31.5" lengthAdjust="spacingAndGlyphs">1.17755</text>
<g shape-rendering="crispEdges">
<rect x="0" y="42" width="52" height="25" fill="url(#gtab)"/>
<rect x="0" y="42" width="52" height="1" fill="#b00000"/><rect x="51" y="42" width="1" height="24" fill="#b00000"/>
<rect x="0" y="66" width="108" height="33" fill="url(#gred)"/>
<rect x="3" y="65" width="45" height="1" fill="#6a0000"/><rect x="3" y="66" width="45" height="1" fill="#f07070"/>
<rect x="52" y="66" width="56" height="1" fill="#b00000"/>
<rect x="166" y="42" width="52" height="25" fill="url(#gtab)"/>
<rect x="166" y="42" width="52" height="1" fill="#b00000"/><rect x="166" y="42" width="1" height="24" fill="#b00000"/>
<rect x="110" y="66" width="108" height="33" fill="url(#gred)"/>
<rect x="170" y="65" width="45" height="1" fill="#6a0000"/><rect x="170" y="66" width="45" height="1" fill="#f07070"/>
<rect x="110" y="66" width="56" height="1" fill="#b00000"/>
<rect x="53.5" y="42.5" width="110" height="21" fill="#fff" stroke="#a8a8b0" stroke-width="1"/>
<rect x="55" y="44" width="19" height="18" fill="url(#gbtn)"/><rect x="74" y="43" width="1" height="20" fill="#a8a8b0"/>
<rect x="143" y="44" width="19" height="18" fill="url(#gbtn)"/><rect x="142" y="43" width="1" height="20" fill="#a8a8b0"/>
</g>
<polygon points="61.5,51 66,51 63.7,54" fill="#4050c0"/>
<polygon points="150,54 155,54 152.5,51" fill="#4050c0"/>
<text x="115.5" y="57" font-size="12" fill="#000" stroke="#000" stroke-width="0.15" textLength="23" lengthAdjust="spacingAndGlyphs">1.00</text>
<text x="11.5" y="58" font-size="12" fill="#fff" textLength="25.5" lengthAdjust="spacingAndGlyphs">SELL</text>
<text x="180" y="58" font-size="12" fill="#fff" textLength="23" lengthAdjust="spacingAndGlyphs">BUY</text>
<text x="19.3" y="94" font-size="12.5" font-weight="bold" fill="#fff" textLength="23.3" lengthAdjust="spacingAndGlyphs">1.17</text>
<text x="46.5" y="94" font-size="33" fill="#fff" textLength="34" lengthAdjust="spacingAndGlyphs">75</text>
<text x="86" y="78.5" font-size="12.5" font-weight="bold" fill="#fff" textLength="7" lengthAdjust="spacingAndGlyphs">5</text>
<text x="129.6" y="94" font-size="12.5" font-weight="bold" fill="#fff" textLength="22.4" lengthAdjust="spacingAndGlyphs">1.17</text>
<text x="156.5" y="94" font-size="33" fill="#fff" textLength="35" lengthAdjust="spacingAndGlyphs">77</text>
<text x="197" y="78.5" font-size="12.5" font-weight="bold" fill="#fff" textLength="7" lengthAdjust="spacingAndGlyphs">5</text>
<g clip-path="url(#cmacd)" shape-rendering="crispEdges">
<rect x="4" y="601" width="1" height="1" fill="#c0c0c0"/>
<rect x="12" y="602" width="1" height="4" fill="#c0c0c0"/>
<rect x="20" y="602" width="1" height="7" fill="#c0c0c0"/>
<rect x="28" y="602" width="1" height="20" fill="#c0c0c0"/>
<rect x="36" y="602" width="1" height="29" fill="#c0c0c0"/>
<rect x="44" y="602" width="1" height="35" fill="#c0c0c0"/>
<rect x="52" y="602" width="1" height="42" fill="#c0c0c0"/>
<rect x="60" y="602" width="1" height="48" fill="#c0c0c0"/>
<rect x="68" y="602" width="1" height="51" fill="#c0c0c0"/>
<rect x="76" y="602" width="1" height="44" fill="#c0c0c0"/>
<rect x="84" y="602" width="1" height="38" fill="#c0c0c0"/>
<rect x="92" y="602" width="1" height="34" fill="#c0c0c0"/>
<rect x="100" y="602" width="1" height="29" fill="#c0c0c0"/>
<rect x="108" y="602" width="1" height="26" fill="#c0c0c0"/>
<rect x="116" y="602" width="1" height="23" fill="#c0c0c0"/>
<rect x="124" y="602" width="1" height="15" fill="#c0c0c0"/>
<rect x="132" y="602" width="1" height="9" fill="#c0c0c0"/>
<rect x="140" y="602" width="1" height="5" fill="#c0c0c0"/>
<rect x="148" y="602" width="1" height="3" fill="#c0c0c0"/>
<rect x="156" y="602" width="1" height="4" fill="#c0c0c0"/>
<rect x="164" y="602" width="1" height="3" fill="#c0c0c0"/>
<rect x="172" y="602" width="1" height="2" fill="#c0c0c0"/>
<rect x="180" y="602" width="1" height="2" fill="#c0c0c0"/>
<rect x="188" y="602" width="1" height="2" fill="#c0c0c0"/>
<rect x="196" y="602" width="1" height="1" fill="#c0c0c0"/>
<rect x="204" y="602" width="1" height="1" fill="#c0c0c0"/>
<rect x="212" y="599" width="1" height="3" fill="#c0c0c0"/>
<rect x="220" y="599" width="1" height="3" fill="#c0c0c0"/>
<rect x="228" y="599" width="1" height="3" fill="#c0c0c0"/>
<rect x="236" y="600" width="1" height="2" fill="#c0c0c0"/>
<rect x="244" y="602" width="1" height="1" fill="#c0c0c0"/>
<rect x="252" y="602" width="1" height="3" fill="#c0c0c0"/>
<rect x="260" y="602" width="1" height="3" fill="#c0c0c0"/>
<rect x="268" y="602" width="1" height="3" fill="#c0c0c0"/>
<rect x="276" y="602" width="1" height="3" fill="#c0c0c0"/>
<rect x="284" y="602" width="1" height="3" fill="#c0c0c0"/>
<rect x="292" y="602" width="1" height="1" fill="#c0c0c0"/>
<rect x="300" y="602" width="1" height="1" fill="#c0c0c0"/>
<rect x="308" y="602" width="1" height="7" fill="#c0c0c0"/>
<rect x="316" y="602" width="1" height="18" fill="#c0c0c0"/>
<rect x="324" y="602" width="1" height="27" fill="#c0c0c0"/>
<rect x="332" y="602" width="1" height="31" fill="#c0c0c0"/>
<rect x="340" y="602" width="1" height="37" fill="#c0c0c0"/>
<rect x="348" y="602" width="1" height="37" fill="#c0c0c0"/>
<rect x="356" y="602" width="1" height="38" fill="#c0c0c0"/>
<rect x="364" y="602" width="1" height="36" fill="#c0c0c0"/>
<rect x="372" y="602" width="1" height="35" fill="#c0c0c0"/>
<rect x="380" y="602" width="1" height="33" fill="#c0c0c0"/>
<rect x="388" y="602" width="1" height="32" fill="#c0c0c0"/>
<rect x="396" y="602" width="1" height="26" fill="#c0c0c0"/>
<rect x="404" y="602" width="1" height="28" fill="#c0c0c0"/>
<rect x="412" y="602" width="1" height="27" fill="#c0c0c0"/>
<rect x="420" y="602" width="1" height="25" fill="#c0c0c0"/>
<rect x="428" y="602" width="1" height="23" fill="#c0c0c0"/>
<rect x="436" y="602" width="1" height="22" fill="#c0c0c0"/>
<rect x="444" y="602" width="1" height="19" fill="#c0c0c0"/>
<rect x="452" y="602" width="1" height="19" fill="#c0c0c0"/>
<rect x="460" y="602" width="1" height="19" fill="#c0c0c0"/>
<rect x="468" y="602" width="1" height="38" fill="#c0c0c0"/>
<rect x="476" y="602" width="1" height="53" fill="#c0c0c0"/>
<rect x="484" y="602" width="1" height="65" fill="#c0c0c0"/>
<rect x="492" y="602" width="1" height="80" fill="#c0c0c0"/>
<rect x="500" y="602" width="1" height="95" fill="#c0c0c0"/>
<rect x="508" y="602" width="1" height="109" fill="#c0c0c0"/>
<rect x="516" y="602" width="1" height="120" fill="#c0c0c0"/>
<rect x="524" y="602" width="1" height="126" fill="#c0c0c0"/>
<rect x="532" y="602" width="1" height="127" fill="#c0c0c0"/>
<rect x="540" y="602" width="1" height="128" fill="#c0c0c0"/>
<rect x="548" y="602" width="1" height="128" fill="#c0c0c0"/>
<rect x="556" y="602" width="1" height="133" fill="#c0c0c0"/>
<rect x="564" y="602" width="1" height="135" fill="#c0c0c0"/>
<rect x="572" y="602" width="1" height="136" fill="#c0c0c0"/>
<rect x="580" y="602" width="1" height="137" fill="#c0c0c0"/>
<rect x="588" y="602" width="1" height="133" fill="#c0c0c0"/>
<rect x="596" y="602" width="1" height="125" fill="#c0c0c0"/>
<rect x="604" y="602" width="1" height="115" fill="#c0c0c0"/>
<rect x="612" y="602" width="1" height="105" fill="#c0c0c0"/>
<rect x="620" y="602" width="1" height="97" fill="#c0c0c0"/>
<rect x="628" y="602" width="1" height="89" fill="#c0c0c0"/>
<rect x="636" y="602" width="1" height="84" fill="#c0c0c0"/>
<rect x="644" y="602" width="1" height="80" fill="#c0c0c0"/>
<rect x="652" y="602" width="1" height="73" fill="#c0c0c0"/>
<rect x="660" y="602" width="1" height="62" fill="#c0c0c0"/>
<rect x="668" y="602" width="1" height="53" fill="#c0c0c0"/>
<rect x="676" y="602" width="1" height="49" fill="#c0c0c0"/>
<rect x="684" y="602" width="1" height="41" fill="#c0c0c0"/>
<rect x="692" y="602" width="1" height="35" fill="#c0c0c0"/>
<rect x="700" y="602" width="1" height="28" fill="#c0c0c0"/>
<rect x="708" y="602" width="1" height="26" fill="#c0c0c0"/>
<rect x="716" y="602" width="1" height="24" fill="#c0c0c0"/>
<rect x="724" y="602" width="1" height="23" fill="#c0c0c0"/>
<rect x="732" y="602" width="1" height="20" fill="#c0c0c0"/>
<rect x="740" y="602" width="1" height="18" fill="#c0c0c0"/>
<rect x="748" y="602" width="1" height="17" fill="#c0c0c0"/>
<rect x="756" y="602" width="1" height="15" fill="#c0c0c0"/>
<rect x="764" y="602" width="1" height="14" fill="#c0c0c0"/>
<rect x="772" y="602" width="1" height="11" fill="#c0c0c0"/>
<rect x="780" y="602" width="1" height="7" fill="#c0c0c0"/>
<rect x="788" y="602" width="1" height="5" fill="#c0c0c0"/>
<rect x="796" y="602" width="1" height="4" fill="#c0c0c0"/>
<rect x="804" y="602" width="1" height="4" fill="#c0c0c0"/>
<rect x="812" y="602" width="1" height="3" fill="#c0c0c0"/>
<rect x="820" y="602" width="1" height="5" fill="#c0c0c0"/>
<rect x="828" y="602" width="1" height="3" fill="#c0c0c0"/>
<rect x="836" y="602" width="1" height="7" fill="#c0c0c0"/>
<rect x="844" y="602" width="1" height="6" fill="#c0c0c0"/>
<rect x="852" y="602" width="1" height="6" fill="#c0c0c0"/>
<rect x="860" y="602" width="1" height="6" fill="#c0c0c0"/>
<rect x="868" y="602" width="1" height="9" fill="#c0c0c0"/>
<rect x="876" y="602" width="1" height="11" fill="#c0c0c0"/>
<rect x="884" y="602" width="1" height="16" fill="#c0c0c0"/>
<rect x="892" y="602" width="1" height="17" fill="#c0c0c0"/>
<rect x="900" y="602" width="1" height="19" fill="#c0c0c0"/>
<rect x="908" y="602" width="1" height="20" fill="#c0c0c0"/>
<rect x="916" y="602" width="1" height="20" fill="#c0c0c0"/>
<rect x="924" y="602" width="1" height="20" fill="#c0c0c0"/>
<rect x="932" y="602" width="1" height="22" fill="#c0c0c0"/>
<rect x="940" y="602" width="1" height="30" fill="#c0c0c0"/>
<rect x="948" y="602" width="1" height="34" fill="#c0c0c0"/>
<rect x="956" y="602" width="1" height="38" fill="#c0c0c0"/>
<rect x="964" y="602" width="1" height="41" fill="#c0c0c0"/>
<rect x="972" y="602" width="1" height="43" fill="#c0c0c0"/>
<rect x="980" y="602" width="1" height="40" fill="#c0c0c0"/>
<rect x="988" y="602" width="1" height="40" fill="#c0c0c0"/>
<rect x="996" y="602" width="1" height="42" fill="#c0c0c0"/>
<rect x="1004" y="602" width="1" height="43" fill="#c0c0c0"/>
<rect x="1012" y="602" width="1" height="43" fill="#c0c0c0"/>
<rect x="1020" y="602" width="1" height="46" fill="#c0c0c0"/>
<rect x="1028" y="602" width="1" height="49" fill="#c0c0c0"/>
<rect x="1036" y="602" width="1" height="46" fill="#c0c0c0"/>
<rect x="1044" y="602" width="1" height="39" fill="#c0c0c0"/>
<rect x="1052" y="602" width="1" height="36" fill="#c0c0c0"/>
<rect x="1060" y="602" width="1" height="33" fill="#c0c0c0"/>
<rect x="1068" y="602" width="1" height="28" fill="#c0c0c0"/>
<rect x="1076" y="602" width="1" height="23" fill="#c0c0c0"/>
<rect x="1084" y="602" width="1" height="20" fill="#c0c0c0"/>
<rect x="1092" y="602" width="1" height="18" fill="#c0c0c0"/>
<rect x="1100" y="602" width="1" height="16" fill="#c0c0c0"/>
<rect x="1108" y="602" width="1" height="13" fill="#c0c0c0"/>
<rect x="1116" y="602" width="1" height="10" fill="#c0c0c0"/>
<rect x="1124" y="602" width="1" height="14" fill="#c0c0c0"/>
<rect x="1132" y="602" width="1" height="20" fill="#c0c0c0"/>
<rect x="1140" y="602" width="1" height="24" fill="#c0c0c0"/>
<rect x="1148" y="602" width="1" height="26" fill="#c0c0c0"/>
<rect x="1156" y="602" width="1" height="28" fill="#c0c0c0"/>
<rect x="1164" y="602" width="1" height="28" fill="#c0c0c0"/>
<rect x="1172" y="602" width="1" height="29" fill="#c0c0c0"/>
<rect x="1180" y="602" width="1" height="33" fill="#c0c0c0"/>
<rect x="1188" y="602" width="1" height="36" fill="#c0c0c0"/>
<rect x="1196" y="602" width="1" height="39" fill="#c0c0c0"/>
<rect x="1204" y="602" width="1" height="41" fill="#c0c0c0"/>
<rect x="1212" y="602" width="1" height="37" fill="#c0c0c0"/>
<rect x="1220" y="602" width="1" height="32" fill="#c0c0c0"/>
<rect x="1228" y="602" width="1" height="26" fill="#c0c0c0"/>
<rect x="1236" y="602" width="1" height="20" fill="#c0c0c0"/>
<rect x="1244" y="602" width="1" height="15" fill="#c0c0c0"/>
<rect x="1252" y="602" width="1" height="12" fill="#c0c0c0"/>
<rect x="1260" y="602" width="1" height="10" fill="#c0c0c0"/>
<rect x="1268" y="602" width="1" height="5" fill="#c0c0c0"/>
<rect x="1276" y="602" width="1" height="1" fill="#c0c0c0"/>
<rect x="1284" y="597" width="1" height="5" fill="#c0c0c0"/>
<rect x="1292" y="592" width="1" height="10" fill="#c0c0c0"/>
<rect x="1300" y="590" width="1" height="12" fill="#c0c0c0"/>
<rect x="1308" y="587" width="1" height="15" fill="#c0c0c0"/>
<rect x="1316" y="591" width="1" height="11" fill="#c0c0c0"/>
<rect x="1324" y="591" width="1" height="11" fill="#c0c0c0"/>
<rect x="1332" y="591" width="1" height="11" fill="#c0c0c0"/>
<rect x="1340" y="591" width="1" height="11" fill="#c0c0c0"/>
<rect x="1348" y="589" width="1" height="13" fill="#c0c0c0"/>
<rect x="1356" y="592" width="1" height="10" fill="#c0c0c0"/>
<rect x="1364" y="596" width="1" height="6" fill="#c0c0c0"/>
<rect x="1372" y="602" width="1" height="1" fill="#c0c0c0"/>
<rect x="1380" y="602" width="1" height="13" fill="#c0c0c0"/>
<rect x="1388" y="602" width="1" height="22" fill="#c0c0c0"/>
</g>
<polyline clip-path="url(#cmacd)" points="-3.5,593.5 4.5,596.1 12.5,597.9 20.5,599.7 28.5,602.9 36.5,606.9 44.5,611.4 52.5,616.6 60.5,622.3 68.5,628.2 76.5,633.1 84.5,636.9 92.5,639.8 100.5,640.8 108.5,640.5 116.5,639.1 124.5,636.1 132.5,631.8 140.5,626.6 148.5,622.1 156.5,618.2 164.5,614.8 172.5,611.8 180.5,609.2 188.5,606.9 196.5,605.4 204.5,604.4 212.5,603.6 220.5,602.8 228.5,602.1 236.5,601.6 244.5,601.4 252.5,601.5 260.5,601.5 268.5,601.7 276.5,602.0 284.5,602.7 292.5,603.2 300.5,603.4 308.5,604.4 316.5,606.5 324.5,609.1 332.5,612.3 340.5,616.1 348.5,619.9 356.5,623.7 364.5,627.6 372.5,631.5 380.5,634.5 388.5,635.9 396.5,635.9 404.5,635.6 412.5,634.5 420.5,633.2 428.5,631.6 436.5,630.1 444.5,628.3 452.5,626.8 460.5,625.4 468.5,626.6 476.5,629.4 484.5,633.6 492.5,639.8 500.5,647.7 508.5,657.4 516.5,668.6 524.5,680.4 532.5,692.4 540.5,702.5 548.5,710.7 556.5,718.2 564.5,724.3 572.5,728.9 580.5,732.1 588.5,733.4 596.5,733.3 604.5,732.0 612.5,729.5 620.5,726.0 628.5,721.1 636.5,715.4 644.5,709.2 652.5,702.1 660.5,694.3 668.5,686.3 676.5,678.9 684.5,671.8 692.5,665.0 700.5,658.2 708.5,651.8 716.5,645.5 724.5,639.9 732.5,635.3 740.5,631.3 748.5,627.7 756.5,624.8 764.5,622.4 772.5,620.5 780.5,618.4 788.5,616.3 796.5,614.2 804.5,612.4 812.5,610.8 820.5,609.5 828.5,608.2 836.5,607.5 844.5,606.9 852.5,606.8 860.5,606.9 868.5,607.5 876.5,608.3 884.5,609.7 892.5,611.2 900.5,612.9 908.5,614.3 916.5,615.9 924.5,617.5 932.5,619.2 940.5,621.6 948.5,624.1 956.5,626.5 964.5,629.2 972.5,631.9 980.5,634.1 988.5,636.3 996.5,638.7 1004.5,641.0 1012.5,642.5 1020.5,643.8 1028.5,645.1 1036.5,645.6 1044.5,645.1 1052.5,644.7 1060.5,643.9 1068.5,642.3 1076.5,640.2 1084.5,637.6 1092.5,634.4 1100.5,630.8 1108.5,627.1 1116.5,623.9 1124.5,621.4 1132.5,620.0 1140.5,619.5 1148.5,619.9 1156.5,620.8 1164.5,621.9 1172.5,623.4 1180.5,625.6 1188.5,628.5 1196.5,631.3 1204.5,633.6 1212.5,635.1 1220.5,635.7 1228.5,635.5 1236.5,634.5 1244.5,633.0 1252.5,630.7 1260.5,627.8 1268.5,624.0 1276.5,619.6 1284.5,614.8 1292.5,610.3 1300.5,606.0 1308.5,602.1 1316.5,599.2 1324.5,596.6 1332.5,594.3 1340.5,592.5 1348.5,590.9 1356.5,590.4 1364.5,590.8 1372.5,592.3 1380.5,595.5 1388.5,599.2" fill="none" stroke="#ff0000" stroke-width="1" stroke-dasharray="3,3" shape-rendering="crispEdges"/>
<text x="0.5" y="591" font-size="10" fill="#000" stroke="#000" stroke-width="0.15" textLength="150" lengthAdjust="spacingAndGlyphs">MACD(12,26,9) -0.001050 0.000150</text>
<g clip-path="url(#cmacd)">
<line x1="1296" y1="582" x2="1392.3" y2="623.3" stroke="#ff0000" stroke-width="3.2" stroke-linecap="round"/>
<polygon points="1399.7,626.4 1388.5,627.1 1392.5,617.9" fill="#ff0000"/>
</g>
<rect x="1655" y="602" width="3" height="1" fill="#000" shape-rendering="crispEdges"/>
<text x="1659.5" y="588.5" font-size="10" fill="#000" stroke="#000" stroke-width="0.15" textLength="37" lengthAdjust="spacingAndGlyphs">0.001097</text>
<text x="1659.5" y="606" font-size="10" fill="#000" stroke="#000" stroke-width="0.15" textLength="17.5" lengthAdjust="spacingAndGlyphs">0.00</text>
<text x="1658.5" y="744" font-size="10" fill="#000" stroke="#000" stroke-width="0.15" textLength="31" lengthAdjust="spacingAndGlyphs">-0.0069</text>
<g shape-rendering="crispEdges">
<line x1="3" y1="785.5" x2="1654" y2="785.5" stroke="#c0c0c0" stroke-width="1" stroke-dasharray="3,3"/>
<line x1="3" y1="836.5" x2="1654" y2="836.5" stroke="#c0c0c0" stroke-width="1" stroke-dasharray="3,3"/>
<line x1="3" y1="897.5" x2="1654" y2="897.5" stroke="#c0c0c0" stroke-width="1" stroke-dasharray="3,3"/>
</g>
<polyline clip-path="url(#crsi)" points="-3.5,838.5 4.5,839.0 12.5,851.6 20.5,847.0 28.5,870.0 36.5,864.4 44.5,864.7 52.5,868.9 60.5,869.4 68.5,869.2 76.5,837.5 84.5,840.2 92.5,839.7 100.5,839.4 108.5,839.1 116.5,840.7 124.5,824.0 132.5,825.6 140.5,828.6 148.5,834.6 156.5,838.8 164.5,835.2 172.5,835.1 180.5,838.6 188.5,838.4 196.5,833.3 204.5,831.7 212.5,825.4 220.5,832.3 228.5,837.4 236.5,836.8 244.5,843.2 252.5,850.0 260.5,836.4 268.5,838.0 276.5,841.0 284.5,838.7 292.5,827.6 300.5,831.2 308.5,861.2 316.5,872.3 324.5,870.3 332.5,865.1 340.5,868.7 348.5,855.4 356.5,856.7 364.5,849.3 372.5,851.8 380.5,851.1 388.5,849.4 396.5,835.5 404.5,854.5 412.5,846.1 420.5,841.9 428.5,843.6 436.5,844.5 444.5,838.3 452.5,846.7 460.5,846.3 468.5,881.0 476.5,882.6 484.5,882.6 492.5,889.2 500.5,891.6 508.5,894.7 516.5,895.5 524.5,889.4 532.5,883.5 540.5,884.4 548.5,885.4 556.5,891.5 564.5,891.6 572.5,891.8 580.5,894.0 588.5,876.5 596.5,868.5 604.5,860.9 612.5,855.2 620.5,857.8 628.5,857.2 636.5,861.4 644.5,863.7 652.5,853.3 660.5,837.3 668.5,839.5 676.5,845.9 684.5,837.7 692.5,836.6 700.5,832.0 708.5,844.4 716.5,841.1 724.5,845.1 732.5,839.3 740.5,837.4 748.5,842.2 756.5,838.4 764.5,841.0 772.5,834.2 780.5,829.6 788.5,833.8 796.5,834.9 804.5,840.4 812.5,833.9 820.5,843.5 828.5,833.4 836.5,850.6 844.5,835.1 852.5,839.8 860.5,838.7 868.5,847.2 876.5,846.6 884.5,855.7 892.5,846.4 900.5,848.9 908.5,848.0 916.5,847.6 924.5,848.3 932.5,852.1 940.5,870.0 948.5,863.0 956.5,863.8 964.5,865.9 972.5,866.2 980.5,847.0 988.5,856.3 996.5,859.6 1004.5,859.8 1012.5,861.2 1020.5,868.3 1028.5,869.4 1036.5,850.3 1044.5,838.6 1052.5,844.7 1060.5,845.6 1068.5,835.2 1076.5,834.8 1084.5,838.5 1092.5,839.7 1100.5,840.7 1108.5,833.1 1116.5,834.7 1124.5,852.8 1132.5,862.5 1140.5,858.3 1148.5,858.3 1156.5,856.2 1164.5,855.9 1172.5,857.5 1180.5,866.8 1188.5,869.9 1196.5,870.9 1204.5,871.0 1212.5,847.2 1220.5,837.2 1228.5,833.3 1236.5,828.5 1244.5,829.1 1252.5,835.2 1260.5,834.5 1268.5,823.4 1276.5,821.0 1284.5,811.7 1292.5,815.6 1300.5,818.2 1308.5,813.7 1316.5,843.1 1324.5,831.2 1332.5,830.0 1340.5,828.0 1348.5,824.3 1356.5,838.6 1364.5,844.4 1372.5,856.3 1380.5,868.9 1388.5,867.5" fill="none" stroke="#1e90ff" stroke-width="1" shape-rendering="crispEdges"/>
<text x="0.5" y="763" font-size="10" fill="#000" stroke="#000" stroke-width="0.15" textLength="67" lengthAdjust="spacingAndGlyphs">RSI(14) 31.2286</text>
<g clip-path="url(#crsi)">
<line x1="1290" y1="800" x2="1386.4" y2="878.3" stroke="#ff0000" stroke-width="3.2" stroke-linecap="round"/>
<polygon points="1392.6,883.3 1381.7,880.9 1388.0,873.1" fill="#ff0000"/>
</g>
<text x="1660" y="761" font-size="10" fill="#000" stroke="#000" stroke-width="0.15" textLength="12.5" lengthAdjust="spacingAndGlyphs">100</text>
<text x="1660" y="790" font-size="10" fill="#000" stroke="#000" stroke-width="0.15" textLength="9" lengthAdjust="spacingAndGlyphs">80</text>
<text x="1660" y="840.5" font-size="10" fill="#000" stroke="#000" stroke-width="0.15" textLength="9" lengthAdjust="spacingAndGlyphs">50</text>
<text x="1660" y="901" font-size="10" fill="#000" stroke="#000" stroke-width="0.15" textLength="9" lengthAdjust="spacingAndGlyphs">15</text>
<text x="1660" y="920" font-size="10" fill="#000" stroke="#000" stroke-width="0.15" textLength="5" lengthAdjust="spacingAndGlyphs">0</text>
<g shape-rendering="crispEdges">
<rect x="1655" y="785" width="3" height="1" fill="#000"/>
<rect x="1655" y="836" width="3" height="1" fill="#000"/>
<rect x="1655" y="897" width="3" height="1" fill="#000"/>
</g>
<g shape-rendering="crispEdges">
<rect x="60" y="924" width="1" height="3" fill="#000"/>
<text x="59" y="935.5" font-size="10" fill="#000" stroke="#000" stroke-width="0.15" textLength="48.4" lengthAdjust="spacingAndGlyphs">4 Jun 04:00</text>
<rect x="124" y="924" width="1" height="3" fill="#000"/>
<text x="123" y="935.5" font-size="10" fill="#000" stroke="#000" stroke-width="0.15" textLength="48.4" lengthAdjust="spacingAndGlyphs">7 Jun 12:00</text>
<rect x="188" y="924" width="1" height="3" fill="#000"/>
<text x="187" y="935.5" font-size="10" fill="#000" stroke="#000" stroke-width="0.15" textLength="48.4" lengthAdjust="spacingAndGlyphs">8 Jun 20:00</text>
<rect x="252" y="924" width="1" height="3" fill="#000"/>
<text x="251" y="935.5" font-size="10" fill="#000" stroke="#000" stroke-width="0.15" textLength="52.8" lengthAdjust="spacingAndGlyphs">10 Jun 04:00</text>
<rect x="316" y="924" width="1" height="3" fill="#000"/>
<text x="315" y="935.5" font-size="10" fill="#000" stroke="#000" stroke-width="0.15" textLength="52.8" lengthAdjust="spacingAndGlyphs">11 Jun 12:00</text>
<rect x="380" y="924" width="1" height="3" fill="#000"/>
<text x="379" y="935.5" font-size="10" fill="#000" stroke="#000" stroke-width="0.15" textLength="52.8" lengthAdjust="spacingAndGlyphs">14 Jun 20:00</text>
<rect x="444" y="924" width="1" height="3" fill="#000"/>
<text x="443" y="935.5" font-size="10" fill="#000" stroke="#000" stroke-width="0.15" textLength="52.8" lengthAdjust="spacingAndGlyphs">16 Jun 04:00</text>
<rect x="508" y="924" width="1" height="3" fill="#000"/>
<text x="507" y="935.5" font-size="10" fill="#000" stroke="#000" stroke-width="0.15" textLength="52.8" lengthAdjust="spacingAndGlyphs">17 Jun 12:00</text>
<rect x="572" y="924" width="1" height="3" fill="#000"/>
<text x="571" y="935.5" font-size="10" fill="#000" stroke="#000" stroke-width="0.15" textLength="52.8" lengthAdjust="spacingAndGlyphs">20 Jun 23:00</text>
<rect x="636" y="924" width="1" height="3" fill="#000"/>
<text x="635" y="935.5" font-size="10" fill="#000" stroke="#000" stroke-width="0.15" textLength="52.8" lengthAdjust="spacingAndGlyphs">22 Jun 04:00</text>
<rect x="700" y="924" width="1" height="3" fill="#000"/>
<text x="699" y="935.5" font-size="10" fill="#000" stroke="#000" stroke-width="0.15" textLength="52.8" lengthAdjust="spacingAndGlyphs">23 Jun 12:00</text>
<rect x="764" y="924" width="1" height="3" fill="#000"/>
<text x="763" y="935.5" font-size="10" fill="#000" stroke="#000" stroke-width="0.15" textLength="52.8" lengthAdjust="spacingAndGlyphs">24 Jun 20:00</text>
<rect x="828" y="924" width="1" height="3" fill="#000"/>
<text x="827" y="935.5" font-size="10" fill="#000" stroke="#000" stroke-width="0.15" textLength="52.8" lengthAdjust="spacingAndGlyphs">28 Jun 04:00</text>
<rect x="892" y="924" width="1" height="3" fill="#000"/>
<text x="891" y="935.5" font-size="10" fill="#000" stroke="#000" stroke-width="0.15" textLength="52.8" lengthAdjust="spacingAndGlyphs">29 Jun 12:00</text>
<rect x="956" y="924" width="1" height="3" fill="#000"/>
<text x="955" y="935.5" font-size="10" fill="#000" stroke="#000" stroke-width="0.15" textLength="52.8" lengthAdjust="spacingAndGlyphs">30 Jun 20:00</text>
<rect x="1020" y="924" width="1" height="3" fill="#000"/>
<text x="1019" y="935.5" font-size="10" fill="#000" stroke="#000" stroke-width="0.15" textLength="48.4" lengthAdjust="spacingAndGlyphs">2 Jul 04:00</text>
<rect x="1084" y="924" width="1" height="3" fill="#000"/>
<text x="1083" y="935.5" font-size="10" fill="#000" stroke="#000" stroke-width="0.15" textLength="48.4" lengthAdjust="spacingAndGlyphs">5 Jul 12:00</text>
<rect x="1148" y="924" width="1" height="3" fill="#000"/>
<text x="1147" y="935.5" font-size="10" fill="#000" stroke="#000" stroke-width="0.15" textLength="48.4" lengthAdjust="spacingAndGlyphs">6 Jul 20:00</text>
<rect x="1212" y="924" width="1" height="3" fill="#000"/>
<text x="1211" y="935.5" font-size="10" fill="#000" stroke="#000" stroke-width="0.15" textLength="48.4" lengthAdjust="spacingAndGlyphs">8 Jul 04:00</text>
<rect x="1276" y="924" width="1" height="3" fill="#000"/>
<text x="1275" y="935.5" font-size="10" fill="#000" stroke="#000" stroke-width="0.15" textLength="48.4" lengthAdjust="spacingAndGlyphs">9 Jul 12:00</text>
<rect x="1340" y="924" width="1" height="3" fill="#000"/>
<text x="1339" y="935.5" font-size="10" fill="#000" stroke="#000" stroke-width="0.15" textLength="52.8" lengthAdjust="spacingAndGlyphs">12 Jul 20:00</text>
<text x="3" y="935.5" font-size="10" fill="#000" stroke="#000" stroke-width="0.15" textLength="36" lengthAdjust="spacingAndGlyphs">Jun 2021</text>
</g>
<g id="tb">
<rect x="0" y="17" width="1701" height="1" fill="#f5f5f5"/><rect x="0" y="18" width="1701" height="1" fill="#a0a0a0"/><rect x="0" y="19" width="1701" height="1" fill="#696969"/><rect x="0" y="20" width="1699" height="2" fill="#fff"/>
<circle cx="1" cy="4" r="4.5" fill="#e4f2fb" stroke="#5a8fd0" stroke-width="1"/>
<line x1="3" y1="8.5" x2="7.5" y2="13" stroke="#c8a020" stroke-width="2.2"/>
<rect x="15" y="0" width="1" height="16" fill="#a0a0a0"/>
<path d="M25.5,-1 H34 L36.5,1.5 V11.5 H25.5 Z" fill="#fff" stroke="#707070" stroke-width="1"/>
<rect x="27.5" y="4" width="6" height="1" fill="#808080"/><rect x="27.5" y="6" width="5" height="1" fill="#808080"/><rect x="27.5" y="8" width="4" height="1" fill="#808080"/>
<path d="M32.5,4.5 h3.5 v3.5 h3.5 v3.5 h-3.5 v3.5 h-3.5 v-3.5 h-3.5 v-3.5 h3.5 Z" fill="#19d32a" stroke="#0a8a12" stroke-width="1"/>
<path d="M44,2.5 H50.5 M47.3,0 V10 M44,5.8 H50.5 M45.5,7 L44,9.8 M49,7 L50.5,9 M55.5,0.3 L51.3,1.6 V9.8 M51.3,4.3 H56 M54,4.3 V10" fill="none" stroke="#000" stroke-width="1" shape-rendering="crispEdges"/>
<path d="M57.5,0.3 L59,1.5 M57,4.3 H59.3 V9.3 L60.5,8.3 M60.3,1.2 H68 M65,1.2 V9.5 L63,9" fill="none" stroke="#000" stroke-width="1" shape-rendering="crispEdges"/>
<path d="M69.5,0 V5.2 H78.5 V0 M69.5,2.5 H78.5 M68,7.5 H80 M74,0 V10" fill="none" stroke="#000" stroke-width="1" shape-rendering="crispEdges"/>
<defs><linearGradient id="gbook" x1="0" y1="0" x2="1" y2="1"><stop offset="0" stop-color="#ffe060"/><stop offset="1" stop-color="#d09010"/></linearGradient></defs>
<path d="M98.5,-0.5 Q97,3.5 92.5,7.5 L100.5,13.8 L107.8,7.8 Q106.5,6 106.8,4.5 L100,-1 Z" fill="url(#gbook)" stroke="#9a6210" stroke-width="1"/>
<path d="M93.5,8 L100.5,13" stroke="#ffeaa0" stroke-width="1"/><path d="M102,12 L107,7.5" stroke="#e8d8a0" stroke-width="1"/>
<rect x="122" y="-1" width="11" height="9" fill="#1a90f0"/><rect x="124.5" y="-1" width="1" height="9" fill="#a0d8ff"/><rect x="127" y="2.5" width="5" height="1" fill="#e0f4ff"/>
<path d="M122,13.5 Q119.5,13.5 120,11 Q120.5,9 123,9.5 Q123.5,6.5 127,6.5 Q129.5,5.5 131,8 Q134,7.5 135.5,10 Q136.5,13.5 133,13.5 Z" fill="#e6eaf2" stroke="#3a5590" stroke-width="1"/>
<circle cx="156" cy="6" r="7" fill="#eef3ee" stroke="#6a90d8" stroke-width="1"/>
<path d="M156,13 A7,7 0 0 0 163,6 A7,7 0 0 0 158,-0.7" fill="none" stroke="#4aa050" stroke-width="1.2"/>
<circle cx="156" cy="6" r="4.3" fill="none" stroke="#a8c0e8" stroke-width="1"/>
<circle cx="156" cy="6" r="1.8" fill="#2050d0"/><rect x="156" y="6" width="1" height="8" fill="#10a010"/>
<path d="M176,5 L183,13 L190,5 Z" fill="#f8e060" stroke="#c09010" stroke-width="1"/>
<ellipse cx="183" cy="2.5" rx="7.5" ry="3.5" fill="#6ab8e8" stroke="#2a78a8" stroke-width="1"/>
<circle cx="188" cy="9.5" r="3.8" fill="#e02010" stroke="#a01008" stroke-width="0.8"/><rect x="186.5" y="8" width="3" height="3" fill="#fff"/>
<path d="M197.8,0 V9.8 M206.5,0 V9.8 M197.8,1.3 H206.5 M197.8,3.8 H206.5 M197.8,6 H206.5 M197.8,8.8 H206.5" fill="none" stroke="#000" stroke-width="1" shape-rendering="crispEdges"/>
<path d="M209,0.8 H213.5 M208.5,3.3 H214 M211.3,3.3 L209,8.8 L214,8 M212.8,6.3 L214,9 M214.5,2.5 H219 V9.3 L217.5,8.8 M216.7,0 V2.5 Q216.5,7.5 214.3,10" fill="none" stroke="#000" stroke-width="1" shape-rendering="crispEdges"/>
<path d="M226,0 V1.2 M220.5,1.5 H232 M223.5,2.8 L221.3,5.3 M228.7,2.8 L231.3,5.3 M223,5.2 L231.5,10 M229.5,5.5 L220.8,10" fill="none" stroke="#000" stroke-width="1" shape-rendering="crispEdges"/>
<path d="M235,0 V3.6 H242 V0 M235,1.6 H242 M234,5 H243 V9.8 L241.3,9.3 M236.2,5 L233,9.5 M238.8,6 L235.5,10 M241.2,6 L238,10" fill="none" stroke="#000" stroke-width="1" shape-rendering="crispEdges"/>
<rect x="251" y="0" width="1" height="16" fill="#a0a0a0"/>
<rect x="255" y="0" width="4" height="1" fill="#b0b0b0"/>
<rect x="255" y="2" width="4" height="1" fill="#b0b0b0"/>
<rect x="255" y="4" width="4" height="1" fill="#b0b0b0"/>
<rect x="255" y="6" width="4" height="1" fill="#b0b0b0"/>
<rect x="255" y="8" width="4" height="1" fill="#b0b0b0"/>
<rect x="255" y="10" width="4" height="1" fill="#b0b0b0"/>
<rect x="255" y="12" width="4" height="1" fill="#b0b0b0"/>
<rect x="255" y="14" width="4" height="1" fill="#b0b0b0"/>
<rect x="269" y="0" width="1" height="14" fill="#505050"/><rect x="267" y="11" width="14" height="1" fill="#505050"/>
<path d="M281,9.5 L283,11.5 L281,13.5 Z" fill="#505050"/><path d="M267.5,1.5 L269.5,-0.5 L271.5,1.5 Z" fill="#505050"/>
<path d="M273,8.5 H275.5 V1.5 H278" fill="none" stroke="#0a9a10" stroke-width="1"/>
<rect x="289" y="0" width="1" height="16" fill="#a0a0a0"/>
<rect x="290" y="0" width="24" height="16" fill="#f6f6f6"/>
<rect x="297" y="0" width="1" height="14" fill="#505050"/><rect x="295" y="11" width="14" height="1" fill="#505050"/>
<path d="M309,9.5 L311,11.5 L309,13.5 Z" fill="#505050"/><path d="M295.5,1.5 L297.5,-0.5 L299.5,1.5 Z" fill="#505050"/>
<rect x="301.5" y="-1" width="4" height="8.5" fill="#40e050" stroke="#0a8a12" stroke-width="1"/><rect x="303" y="7" width="1" height="3" fill="#0a8a12"/>
<rect x="325" y="0" width="1" height="14" fill="#505050"/><rect x="323" y="11" width="14" height="1" fill="#505050"/>
<path d="M337,9.5 L339,11.5 L337,13.5 Z" fill="#505050"/><path d="M323.5,1.5 L325.5,-0.5 L327.5,1.5 Z" fill="#505050"/>
<path d="M324,8.5 Q327,4 330,3 Q333,3.5 335.5,6.5" fill="none" stroke="#20a028" stroke-width="1"/>
<rect x="346" y="0" width="1" height="16" fill="#a0a0a0"/>
<line x1="364" y1="7" x2="369.5" y2="12.5" stroke="#c09a10" stroke-width="2.2"/>
<circle cx="361" cy="4" r="5" fill="#dcf0fc" stroke="#3a78c8" stroke-width="1"/>
<rect x="358" y="3.5" width="6" height="1.5" fill="#3a88b0"/>
<rect x="360.25" y="0.5" width="1.5" height="7" fill="#3a88b0"/>
<line x1="392" y1="7" x2="397.5" y2="12.5" stroke="#c09a10" stroke-width="2.2"/>
<circle cx="389" cy="4" r="5" fill="#dcf0fc" stroke="#3a78c8" stroke-width="1"/>
<rect x="386" y="3.5" width="6" height="1.5" fill="#3a88b0"/>
<rect x="411" y="0" width="8" height="6" fill="#30a020"/><rect x="419" y="0" width="8" height="6" fill="#2050d8"/><rect x="411" y="6" width="8" height="8" fill="#2050d8"/><rect x="419" y="6" width="8" height="8" fill="#30a020"/>
<rect x="413" y="2" width="5" height="2" fill="#fff"/>
<rect x="421" y="2" width="5" height="2" fill="#fff"/>
<rect x="413" y="9" width="5" height="2" fill="#fff"/>
<rect x="421" y="9" width="5" height="2" fill="#fff"/>
<rect x="436" y="0" width="1" height="16" fill="#a0a0a0"/>
<rect x="441" y="0" width="1" height="16" fill="#a0a0a0"/>
<rect x="442" y="0" width="25" height="16" fill="#f6f6f6"/>
<rect x="449" y="0" width="1" height="14" fill="#505050"/><rect x="447" y="11" width="14" height="1" fill="#505050"/>
<path d="M461,9.5 L463,11.5 L461,13.5 Z" fill="#505050"/><path d="M447.5,1.5 L449.5,-0.5 L451.5,1.5 Z" fill="#505050"/>
<path d="M454,2 L458,5.5 L454,9 Z" fill="#50d050" stroke="#0a9a10" stroke-width="0.8"/>
<rect x="469" y="0" width="1" height="16" fill="#a0a0a0"/>
<rect x="470" y="0" width="25" height="16" fill="#f6f6f6"/>
<rect x="477" y="0" width="1" height="14" fill="#505050"/><rect x="475" y="11" width="14" height="1" fill="#505050"/>
<path d="M489,9.5 L491,11.5 L489,13.5 Z" fill="#505050"/><path d="M475.5,1.5 L477.5,-0.5 L479.5,1.5 Z" fill="#505050"/>
<rect x="483" y="0" width="1" height="9.5" fill="#1a70a8"/><path d="M485,5.5 L488,3.5 V7.5 Z M487,5 H489 V6 H487 Z" fill="#e04010"/>
<rect x="498" y="0" width="1" height="16" fill="#a0a0a0"/>
<path d="M508.5,-1 H517 L519.5,1.5 V11.5 H508.5 Z" fill="#fff" stroke="#707070" stroke-width="1"/>
<rect x="510.5" y="4" width="6" height="1" fill="#808080"/><rect x="510.5" y="6" width="5" height="1" fill="#808080"/><rect x="510.5" y="8" width="4" height="1" fill="#808080"/>
<path d="M515.5,4.5 h3.5 v3.5 h3.5 v3.5 h-3.5 v3.5 h-3.5 v-3.5 h-3.5 v-3.5 h3.5 Z" fill="#19d32a" stroke="#0a8a12" stroke-width="1"/>
<path d="M529.5,5 H535.5 L532.5,8 Z" fill="#000"/>
<circle cx="554" cy="6" r="7.3" fill="#f8fbff" stroke="#1a78d8" stroke-width="2"/><path d="M554,2 V6 H557" fill="none" stroke="#202020" stroke-width="1"/>
<path d="M569,5 H575 L572,8 Z" fill="#000"/>
<rect x="585.5" y="-1" width="15" height="13" fill="#fff" stroke="#3a7ac8" stroke-width="1"/><rect x="586" y="0" width="14" height="1.5" fill="#5a9ae0"/><rect x="586" y="6" width="14" height="1" fill="#3a7ac8"/>
<path d="M587,5 L590,4.5 L592,3 L594,4 L597,3" fill="none" stroke="#a02010" stroke-width="1"/><path d="M588,10 L591,9 L593,10 L595.5,8 L598,10" fill="none" stroke="#20a020" stroke-width="1"/>
<path d="M607.5,5 H613.5 L610.5,8 Z" fill="#000"/>
<rect x="619" y="0" width="1" height="16" fill="#a0a0a0"/>
<rect x="620" y="0" width="1" height="16" fill="#fff"/>
<rect x="623" y="0" width="4" height="1" fill="#b0b0b0"/>
<rect x="623" y="2" width="4" height="1" fill="#b0b0b0"/>
<rect x="623" y="4" width="4" height="1" fill="#b0b0b0"/>
<rect x="623" y="6" width="4" height="1" fill="#b0b0b0"/>
<rect x="623" y="8" width="4" height="1" fill="#b0b0b0"/>
<rect x="623" y="10" width="4" height="1" fill="#b0b0b0"/>
<rect x="623" y="12" width="4" height="1" fill="#b0b0b0"/>
<rect x="623" y="14" width="4" height="1" fill="#b0b0b0"/>
<rect x="629" y="0" width="1" height="16" fill="#a0a0a0"/>
<rect x="631" y="0" width="24" height="16" fill="#f6f6f6"/>
<path d="M638.5,-1 V11 L641,8.5 L643,13 L645,12 L643,7.5 L646.5,7.3 Z" fill="#404040"/>
<rect x="669" y="0" width="1" height="14" fill="#404040"/><rect x="662" y="6" width="15" height="1" fill="#404040"/><rect x="668" y="5" width="3" height="3" fill="#f0f0f0"/>
<rect x="686" y="0" width="1" height="16" fill="#a0a0a0"/>
<rect x="703" y="0" width="1" height="13" fill="#404040"/>
<rect x="726" y="6" width="12" height="1" fill="#404040"/>
<line x1="754" y1="12.5" x2="766" y2="1" stroke="#404040" stroke-width="1"/>
<path d="M779,10 L789,1 M781,12 L791,3 M782,5 L784,8 M785,3 L787,6" fill="none" stroke="#404040" stroke-width="1"/>
<text x="790.5" y="14.5" font-size="7" font-weight="bold" fill="#404040">E</text>
<line x1="809" y1="2.5" x2="822" y2="2.5" stroke="#505050" stroke-width="1" stroke-dasharray="1,1"/>
<line x1="809" y1="6.5" x2="822" y2="6.5" stroke="#505050" stroke-width="1" stroke-dasharray="1,1"/>
<line x1="809" y1="10.5" x2="822" y2="10.5" stroke="#505050" stroke-width="1" stroke-dasharray="1,1"/>
<text x="819.5" y="14.5" font-size="7" font-weight="bold" fill="#404040">F</text>
<text x="838.5" y="11.5" font-size="11" fill="#505050" stroke="#505050" stroke-width="0.4">A</text>
<rect x="865.5" y="0.5" width="11" height="12" fill="none" stroke="#505050" stroke-width="1" stroke-dasharray="1,1"/><text x="867" y="11" font-size="10" fill="#505050" stroke="#505050" stroke-width="0.5">T</text>
<path d="M892.5,2.5 L895.5,-0.5 L898.5,2.5 L895.5,5.5 Z M902,10 L905,7 L908,10 L905,13 Z" fill="#404040"/><path d="M896,6 L899,9.5 L903,5" fill="none" stroke="#404040" stroke-width="1.3"/>
<path d="M913,5 H919 L916,8 Z" fill="#000"/>
<rect x="925" y="0" width="1" height="16" fill="#a0a0a0"/>
<rect x="929" y="0" width="4" height="1" fill="#b0b0b0"/>
<rect x="929" y="2" width="4" height="1" fill="#b0b0b0"/>
<rect x="929" y="4" width="4" height="1" fill="#b0b0b0"/>
<rect x="929" y="6" width="4" height="1" fill="#b0b0b0"/>
<rect x="929" y="8" width="4" height="1" fill="#b0b0b0"/>
<rect x="929" y="10" width="4" height="1" fill="#b0b0b0"/>
<rect x="929" y="12" width="4" height="1" fill="#b0b0b0"/>
<rect x="929" y="14" width="4" height="1" fill="#b0b0b0"/>
<rect x="1076" y="0" width="25" height="16" fill="#f6f6f6"/><rect x="1075" y="0" width="1" height="16" fill="#a0a0a0"/>
<text x="940.5" y="10.3" font-size="10" fill="#404040" textLength="12.5" lengthAdjust="spacingAndGlyphs">M1</text>
<text x="968" y="10.3" font-size="10" fill="#404040" textLength="13" lengthAdjust="spacingAndGlyphs">M5</text>
<text x="994.5" y="10.3" font-size="10" fill="#404040" textLength="17.5" lengthAdjust="spacingAndGlyphs">M15</text>
<text x="1022.5" y="10.3" font-size="10" fill="#404040" textLength="17.5" lengthAdjust="spacingAndGlyphs">M30</text>
<text x="1053" y="10.3" font-size="10" fill="#404040" textLength="12" lengthAdjust="spacingAndGlyphs">H1</text>
<text x="1080" y="10.3" font-size="10" fill="#404040" textLength="13" lengthAdjust="spacingAndGlyphs">H4</text>
<text x="1109.5" y="10.3" font-size="10" fill="#404040" textLength="11.5" lengthAdjust="spacingAndGlyphs">D1</text>
<text x="1136.5" y="10.3" font-size="10" fill="#404040" textLength="14.5" lengthAdjust="spacingAndGlyphs">W1</text>
<text x="1163.5" y="10.3" font-size="10" fill="#404040" textLength="15" lengthAdjust="spacingAndGlyphs">MN</text>
<rect x="1186" y="0" width="1" height="16" fill="#a0a0a0"/>
<circle cx="1657.5" cy="3.5" r="3.3" fill="#fff" stroke="#2a60d0" stroke-width="1.2"/><line x1="1649" y1="11" x2="1655" y2="6" stroke="#2a60d0" stroke-width="2"/>
<path d="M1675,7 Q1675,3.5 1681,3.5 Q1687,3.5 1687,7.5 Q1687,11 1681,11 L1677,14 L1678,10.5 Q1675,9.5 1675,7 Z" fill="#e0e4ea" stroke="#909090" stroke-width="0.8"/>
<circle cx="1687.5" cy="3" r="8" fill="#e03010"/><text x="1685" y="7" font-size="10" fill="#fff">1</text>
</g>
<g fill="none" stroke="#00ff00" stroke-width="1.3" stroke-linecap="round" stroke-linejoin="round">
<path d="M1480,525.5 L1471.5,531.8 M1477.5,528.2 H1486.5 L1472,539.5 M1476,529 L1479,531.3 M1478,533 L1471,535.8 M1479.6,536 H1488 Q1482,542 1471,543.5 M1477,538 L1479,541"/>
<path d="M1500.4,525.5 L1502.1,527 M1494,531 V528.2 H1510 L1509,530.2 M1498.7,530.2 L1493.3,535 M1503.5,530.2 L1508.6,533.3 M1495.3,535.5 H1507.6 M1501.4,535.5 V542.5 M1492.2,542.5 H1510.7"/>
<path d="M1514.1,528.2 H1521.6 M1518.2,525.5 L1515.1,533.7 H1521.5 M1518.9,530.5 V543.9 M1514.1,539.5 L1522.6,537.4 M1523,529.6 H1532.2 M1527.5,525.5 L1526.4,534.7 M1524,533.7 H1532.9 M1522.7,536.7 H1530.9 L1524,539.8 M1524.7,540.1 L1529.8,543.5"/>
<path d="M1536,530.2 H1543.8 M1541.1,525.5 V543.5 L1537.7,542.5 M1536,536 L1543.8,533.3 M1554.1,525.8 L1546.6,527.8 V535 Q1546.3,540.5 1541.8,543.5 M1546.6,532 H1554.8 M1551,532 V543.5"/>
<path d="M1567,525.5 V532 M1567,528.2 H1575.6 M1562.3,532 V537.4 H1573.2 V532 Z M1560.6,540.8 L1559.2,543.5 M1564.7,540.5 L1566,542.5 M1569.1,540.5 L1570.5,542.5 M1573.9,540.1 L1575.6,542.5"/>
</g>
</svg></body></html>
